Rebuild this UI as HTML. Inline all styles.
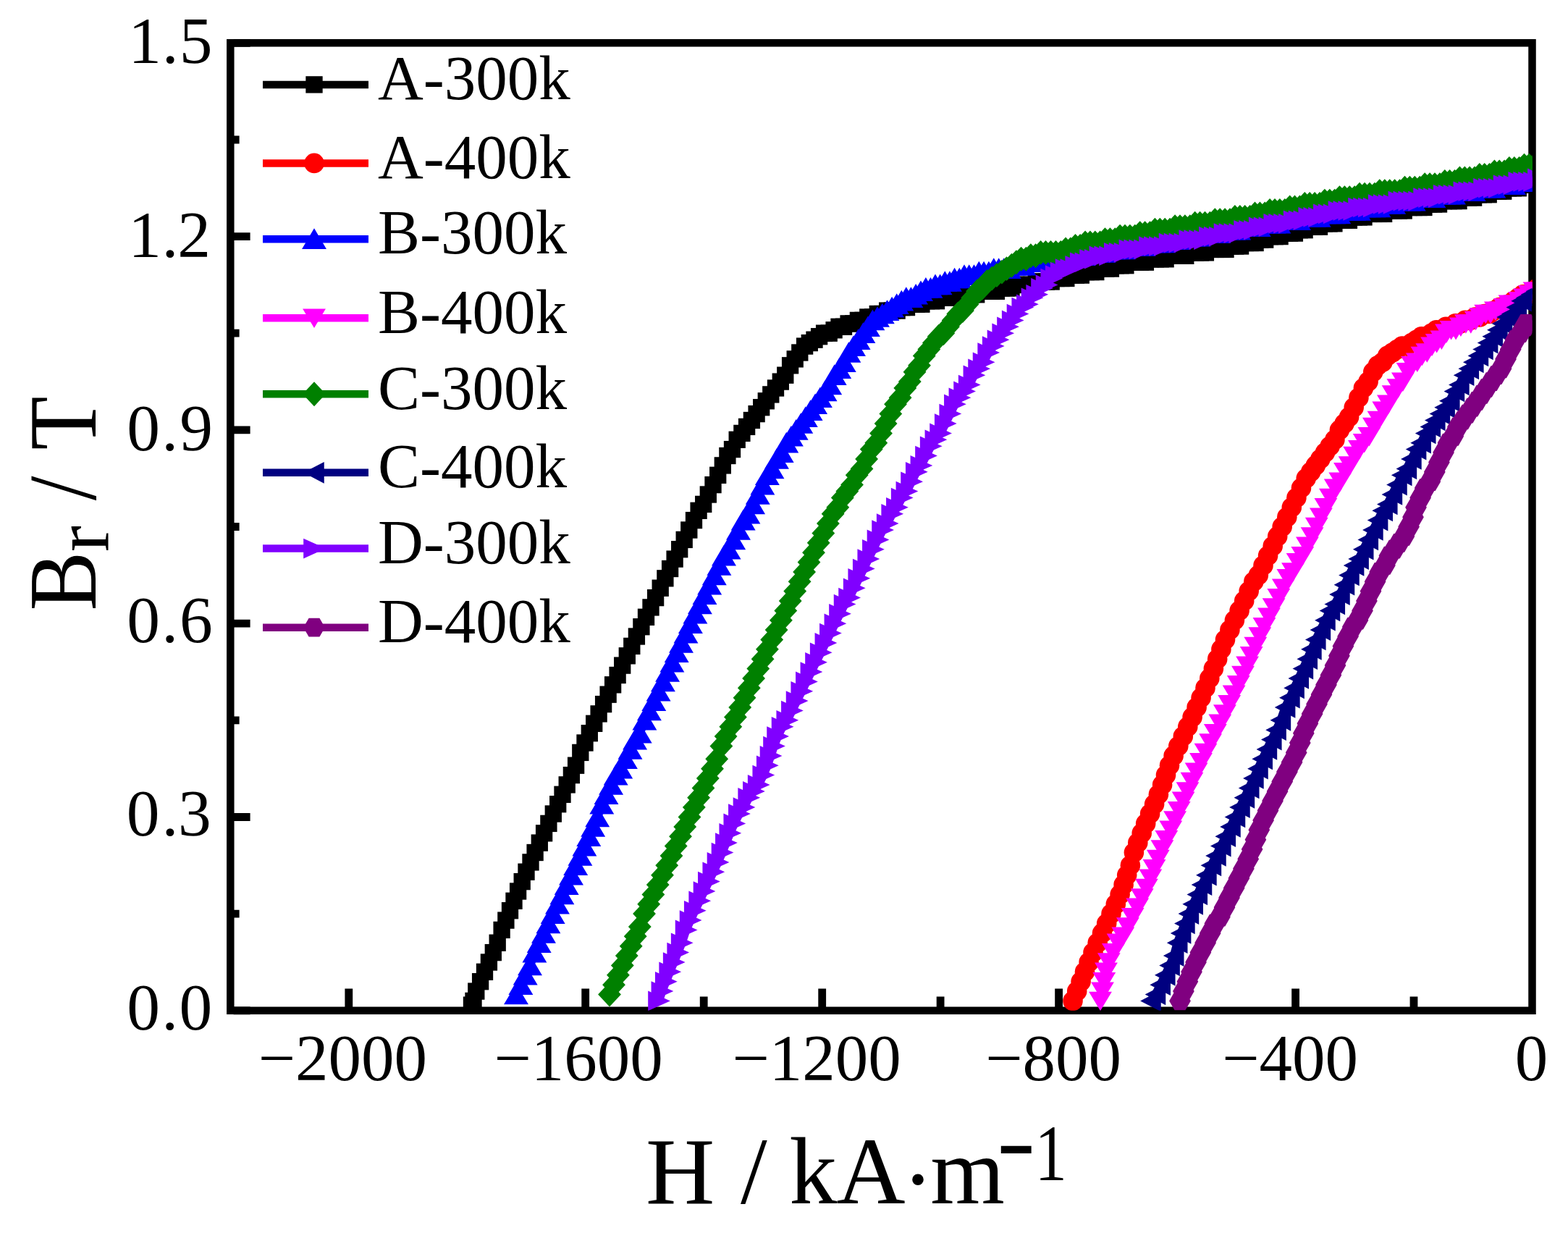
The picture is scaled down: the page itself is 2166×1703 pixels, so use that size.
<!DOCTYPE html>
<html><head><meta charset="utf-8"><title>Br vs H</title>
<style>html,body{margin:0;padding:0;background:#fff;} svg{display:block;}</style>
</head><body>
<svg xmlns="http://www.w3.org/2000/svg" xmlns:xlink="http://www.w3.org/1999/xlink" width="2166" height="1703" viewBox="0 0 2166 1703">
<defs>
<g id="m_A300" transform="scale(1.06)"><rect x="-11" y="-11" width="22" height="22"/></g>
<g id="m_A400" transform="scale(1.06)"><circle r="13"/></g>
<g id="m_B300" transform="scale(1.06)"><polygon points="0,-14 16,13 -16,13"/></g>
<g id="m_B400" transform="scale(1.06)"><polygon points="0,13 15,-12 -15,-12"/></g>
<g id="m_C300" transform="scale(1.06)"><polygon points="0,-16 15,0 0,16 -15,0"/></g>
<g id="m_C400" transform="scale(1.06)"><polygon points="-14,0 13,14 13,-14"/></g>
<g id="m_D300" transform="scale(1.06)"><polygon points="15,0 -14,13 -14,-13"/></g>
<g id="m_D400" transform="scale(1.06)"><polygon points="14.0,0.0 7.0,12.1 -7.0,12.1 -14.0,0.0 -7.0,-12.1 7.0,-12.1"/></g>
<clipPath id="plotclip"><rect x="318.3" y="59.3" width="1798.2" height="1336.5"/></clipPath>
</defs>
<rect width="2166" height="1703" fill="#fff"/>
<rect x="318.3" y="59.3" width="1798.2" height="1336.5" fill="none" stroke="#000" stroke-width="10.5"/>
<path d="M322.6,1395.8H345.6 M322.6,1262.2H330.6 M322.6,1128.5H345.6 M322.6,994.8H330.6 M322.6,861.2H345.6 M322.6,727.5H330.6 M322.6,593.9H345.6 M322.6,460.2H330.6 M322.6,326.6H345.6 M322.6,193.0H330.6 M322.6,59.3H345.6 M481.8,1391.5V1365.5 M645.2,1391.5V1376.5 M808.7,1391.5V1365.5 M972.2,1391.5V1376.5 M1135.7,1391.5V1365.5 M1299.1,1391.5V1376.5 M1462.6,1391.5V1365.5 M1626.1,1391.5V1376.5 M1789.6,1391.5V1365.5 M1953.0,1391.5V1376.5" stroke="#000" stroke-width="10.8" fill="none"/>
<g clip-path="url(#plotclip)">
<g fill="#000000">
<polyline points="654.0,1382.4 657.8,1369.1 663.6,1355.7 669.5,1342.3 675.4,1329.0 681.3,1315.6 687.2,1302.2 693.1,1284.4 698.9,1271.1 704.5,1257.7 710.0,1244.3 715.6,1231.0 721.2,1217.6 727.0,1204.2 733.0,1190.9 739.1,1177.5 745.3,1164.1 751.6,1150.8 757.9,1137.4 764.3,1124.0 770.7,1110.7 777.0,1097.3 783.2,1083.9 789.4,1070.6 795.6,1057.2 801.8,1039.4 808.0,1026.0 814.3,1012.7 820.7,999.3 827.1,985.9 833.6,972.6 840.1,959.2 846.6,945.8 853.1,932.5 859.7,919.1 866.3,905.8 872.8,892.4 879.4,879.0 885.9,865.7 892.5,852.3 899.0,838.9 905.6,825.6 912.2,812.2 918.9,798.8 925.6,785.5 932.1,772.1 938.7,758.7 945.2,745.4 951.8,732.0 958.5,718.6 965.1,705.3 971.7,696.4 978.3,683.0 985.0,669.6 991.7,656.3 998.3,642.9 1004.9,629.5 1011.5,620.6 1018.2,607.3 1024.9,598.4 1031.6,589.4 1038.4,580.5 1045.1,571.6 1051.7,562.7 1058.3,553.8 1064.8,544.9 1071.5,536.0 1078.3,527.1 1084.8,518.2 1091.6,504.8 1098.2,495.9 1104.8,487.0 1111.6,478.1 1118.3,473.6 1125.0,469.2 1131.6,464.7 1138.6,460.2 1145.2,460.2 1152.1,455.8 1159.0,451.3 1165.5,451.3 1172.1,446.9 1178.7,446.9 1185.4,442.4 1192.1,442.4 1198.8,438.0 1205.5,438.0 1212.3,433.5 1219.0,433.5 1225.7,429.1 1232.4,429.1 1239.1,429.1 1245.8,424.6 1252.5,424.6 1259.3,420.2 1266.1,420.2 1272.9,420.2 1279.8,415.7 1286.6,415.7 1293.5,415.7 1300.4,411.2 1307.3,411.2 1314.2,411.2 1321.1,406.8 1328.0,406.8 1334.9,406.8 1341.8,406.8 1348.7,406.8 1355.7,402.3 1362.6,402.3 1369.5,402.3 1376.4,402.3 1383.3,397.9 1390.2,397.9 1397.0,397.9 1403.9,393.4 1410.7,393.4 1417.6,393.4 1424.5,393.4 1431.4,389.0 1438.4,389.0 1445.3,389.0 1452.2,389.0 1459.1,384.5 1466.0,384.5 1472.8,384.5 1479.6,380.1 1486.4,380.1 1493.3,380.1 1500.1,375.6 1507.0,375.6 1513.8,375.6 1520.7,371.1 1527.6,371.1 1534.4,371.1 1541.2,366.7 1548.1,366.7 1554.9,366.7 1561.8,362.2 1568.7,362.2 1575.5,362.2 1582.4,362.2 1589.4,357.8 1596.3,357.8 1603.2,357.8 1610.1,357.8 1617.0,353.3 1623.9,353.3 1630.8,353.3 1637.8,353.3 1644.7,348.9 1651.6,348.9 1658.5,348.9 1665.4,348.9 1672.3,344.4 1679.2,344.4 1686.1,344.4 1693.0,344.4 1699.9,340.0 1706.7,340.0 1713.6,340.0 1720.4,335.5 1727.2,335.5 1734.1,335.5 1740.9,331.1 1747.7,331.1 1754.5,326.6 1761.3,326.6 1768.1,326.6 1774.8,322.1 1781.6,322.1 1788.4,322.1 1795.2,317.7 1802.1,317.7 1808.9,313.2 1815.7,313.2 1822.5,313.2 1829.3,308.8 1836.1,308.8 1842.9,308.8 1849.8,304.3 1856.6,304.3 1863.4,304.3 1870.3,299.9 1877.2,299.9 1884.0,299.9 1890.9,295.4 1897.8,295.4 1904.7,295.4 1911.6,295.4 1918.5,291.0 1925.4,291.0 1932.3,291.0 1939.2,291.0 1946.2,286.5 1953.1,286.5 1960.0,286.5 1966.9,286.5 1973.7,282.0 1980.6,282.0 1987.5,282.0 1994.4,277.6 2001.3,277.6 2008.1,277.6 2015.0,277.6 2021.9,273.1 2028.7,273.1 2035.6,273.1 2042.4,268.7 2049.3,268.7 2056.2,268.7 2063.0,264.2 2069.9,264.2 2076.7,264.2 2083.6,259.8 2090.4,259.8 2097.3,259.8 2104.1,255.3 2111.0,255.3 2117.9,255.3 2124.7,250.9 2124.7,250.9" fill="none" stroke="#000000" stroke-width="12" stroke-linejoin="round"/>
<use xlink:href="#m_A300" x="654.0" y="1382.4"/><use xlink:href="#m_A300" x="657.8" y="1369.1"/><use xlink:href="#m_A300" x="663.6" y="1355.7"/><use xlink:href="#m_A300" x="669.5" y="1342.3"/><use xlink:href="#m_A300" x="675.4" y="1329.0"/><use xlink:href="#m_A300" x="681.3" y="1315.6"/><use xlink:href="#m_A300" x="687.2" y="1302.2"/><use xlink:href="#m_A300" x="693.1" y="1284.4"/><use xlink:href="#m_A300" x="698.9" y="1271.1"/><use xlink:href="#m_A300" x="704.5" y="1257.7"/><use xlink:href="#m_A300" x="710.0" y="1244.3"/><use xlink:href="#m_A300" x="715.6" y="1231.0"/><use xlink:href="#m_A300" x="721.2" y="1217.6"/><use xlink:href="#m_A300" x="727.0" y="1204.2"/><use xlink:href="#m_A300" x="733.0" y="1190.9"/><use xlink:href="#m_A300" x="739.1" y="1177.5"/><use xlink:href="#m_A300" x="745.3" y="1164.1"/><use xlink:href="#m_A300" x="751.6" y="1150.8"/><use xlink:href="#m_A300" x="757.9" y="1137.4"/><use xlink:href="#m_A300" x="764.3" y="1124.0"/><use xlink:href="#m_A300" x="770.7" y="1110.7"/><use xlink:href="#m_A300" x="777.0" y="1097.3"/><use xlink:href="#m_A300" x="783.2" y="1083.9"/><use xlink:href="#m_A300" x="789.4" y="1070.6"/><use xlink:href="#m_A300" x="795.6" y="1057.2"/><use xlink:href="#m_A300" x="801.8" y="1039.4"/><use xlink:href="#m_A300" x="808.0" y="1026.0"/><use xlink:href="#m_A300" x="814.3" y="1012.7"/><use xlink:href="#m_A300" x="820.7" y="999.3"/><use xlink:href="#m_A300" x="827.1" y="985.9"/><use xlink:href="#m_A300" x="833.6" y="972.6"/><use xlink:href="#m_A300" x="840.1" y="959.2"/><use xlink:href="#m_A300" x="846.6" y="945.8"/><use xlink:href="#m_A300" x="853.1" y="932.5"/><use xlink:href="#m_A300" x="859.7" y="919.1"/><use xlink:href="#m_A300" x="866.3" y="905.8"/><use xlink:href="#m_A300" x="872.8" y="892.4"/><use xlink:href="#m_A300" x="879.4" y="879.0"/><use xlink:href="#m_A300" x="885.9" y="865.7"/><use xlink:href="#m_A300" x="892.5" y="852.3"/><use xlink:href="#m_A300" x="899.0" y="838.9"/><use xlink:href="#m_A300" x="905.6" y="825.6"/><use xlink:href="#m_A300" x="912.2" y="812.2"/><use xlink:href="#m_A300" x="918.9" y="798.8"/><use xlink:href="#m_A300" x="925.6" y="785.5"/><use xlink:href="#m_A300" x="932.1" y="772.1"/><use xlink:href="#m_A300" x="938.7" y="758.7"/><use xlink:href="#m_A300" x="945.2" y="745.4"/><use xlink:href="#m_A300" x="951.8" y="732.0"/><use xlink:href="#m_A300" x="958.5" y="718.6"/><use xlink:href="#m_A300" x="965.1" y="705.3"/><use xlink:href="#m_A300" x="971.7" y="696.4"/><use xlink:href="#m_A300" x="978.3" y="683.0"/><use xlink:href="#m_A300" x="985.0" y="669.6"/><use xlink:href="#m_A300" x="991.7" y="656.3"/><use xlink:href="#m_A300" x="998.3" y="642.9"/><use xlink:href="#m_A300" x="1004.9" y="629.5"/><use xlink:href="#m_A300" x="1011.5" y="620.6"/><use xlink:href="#m_A300" x="1018.2" y="607.3"/><use xlink:href="#m_A300" x="1024.9" y="598.4"/><use xlink:href="#m_A300" x="1031.6" y="589.4"/><use xlink:href="#m_A300" x="1038.4" y="580.5"/><use xlink:href="#m_A300" x="1045.1" y="571.6"/><use xlink:href="#m_A300" x="1051.7" y="562.7"/><use xlink:href="#m_A300" x="1058.3" y="553.8"/><use xlink:href="#m_A300" x="1064.8" y="544.9"/><use xlink:href="#m_A300" x="1071.5" y="536.0"/><use xlink:href="#m_A300" x="1078.3" y="527.1"/><use xlink:href="#m_A300" x="1084.8" y="518.2"/><use xlink:href="#m_A300" x="1091.6" y="504.8"/><use xlink:href="#m_A300" x="1098.2" y="495.9"/><use xlink:href="#m_A300" x="1104.8" y="487.0"/><use xlink:href="#m_A300" x="1111.6" y="478.1"/><use xlink:href="#m_A300" x="1118.3" y="473.6"/><use xlink:href="#m_A300" x="1125.0" y="469.2"/><use xlink:href="#m_A300" x="1131.6" y="464.7"/><use xlink:href="#m_A300" x="1138.6" y="460.2"/><use xlink:href="#m_A300" x="1145.2" y="460.2"/><use xlink:href="#m_A300" x="1152.1" y="455.8"/><use xlink:href="#m_A300" x="1159.0" y="451.3"/><use xlink:href="#m_A300" x="1165.5" y="451.3"/><use xlink:href="#m_A300" x="1172.1" y="446.9"/><use xlink:href="#m_A300" x="1178.7" y="446.9"/><use xlink:href="#m_A300" x="1185.4" y="442.4"/><use xlink:href="#m_A300" x="1192.1" y="442.4"/><use xlink:href="#m_A300" x="1198.8" y="438.0"/><use xlink:href="#m_A300" x="1205.5" y="438.0"/><use xlink:href="#m_A300" x="1212.3" y="433.5"/><use xlink:href="#m_A300" x="1219.0" y="433.5"/><use xlink:href="#m_A300" x="1225.7" y="429.1"/><use xlink:href="#m_A300" x="1232.4" y="429.1"/><use xlink:href="#m_A300" x="1239.1" y="429.1"/><use xlink:href="#m_A300" x="1245.8" y="424.6"/><use xlink:href="#m_A300" x="1252.5" y="424.6"/><use xlink:href="#m_A300" x="1259.3" y="420.2"/><use xlink:href="#m_A300" x="1266.1" y="420.2"/><use xlink:href="#m_A300" x="1272.9" y="420.2"/><use xlink:href="#m_A300" x="1279.8" y="415.7"/><use xlink:href="#m_A300" x="1286.6" y="415.7"/><use xlink:href="#m_A300" x="1293.5" y="415.7"/><use xlink:href="#m_A300" x="1300.4" y="411.2"/><use xlink:href="#m_A300" x="1307.3" y="411.2"/><use xlink:href="#m_A300" x="1314.2" y="411.2"/><use xlink:href="#m_A300" x="1321.1" y="406.8"/><use xlink:href="#m_A300" x="1328.0" y="406.8"/><use xlink:href="#m_A300" x="1334.9" y="406.8"/><use xlink:href="#m_A300" x="1341.8" y="406.8"/><use xlink:href="#m_A300" x="1348.7" y="406.8"/><use xlink:href="#m_A300" x="1355.7" y="402.3"/><use xlink:href="#m_A300" x="1362.6" y="402.3"/><use xlink:href="#m_A300" x="1369.5" y="402.3"/><use xlink:href="#m_A300" x="1376.4" y="402.3"/><use xlink:href="#m_A300" x="1383.3" y="397.9"/><use xlink:href="#m_A300" x="1390.2" y="397.9"/><use xlink:href="#m_A300" x="1397.0" y="397.9"/><use xlink:href="#m_A300" x="1403.9" y="393.4"/><use xlink:href="#m_A300" x="1410.7" y="393.4"/><use xlink:href="#m_A300" x="1417.6" y="393.4"/><use xlink:href="#m_A300" x="1424.5" y="393.4"/><use xlink:href="#m_A300" x="1431.4" y="389.0"/><use xlink:href="#m_A300" x="1438.4" y="389.0"/><use xlink:href="#m_A300" x="1445.3" y="389.0"/><use xlink:href="#m_A300" x="1452.2" y="389.0"/><use xlink:href="#m_A300" x="1459.1" y="384.5"/><use xlink:href="#m_A300" x="1466.0" y="384.5"/><use xlink:href="#m_A300" x="1472.8" y="384.5"/><use xlink:href="#m_A300" x="1479.6" y="380.1"/><use xlink:href="#m_A300" x="1486.4" y="380.1"/><use xlink:href="#m_A300" x="1493.3" y="380.1"/><use xlink:href="#m_A300" x="1500.1" y="375.6"/><use xlink:href="#m_A300" x="1507.0" y="375.6"/><use xlink:href="#m_A300" x="1513.8" y="375.6"/><use xlink:href="#m_A300" x="1520.7" y="371.1"/><use xlink:href="#m_A300" x="1527.6" y="371.1"/><use xlink:href="#m_A300" x="1534.4" y="371.1"/><use xlink:href="#m_A300" x="1541.2" y="366.7"/><use xlink:href="#m_A300" x="1548.1" y="366.7"/><use xlink:href="#m_A300" x="1554.9" y="366.7"/><use xlink:href="#m_A300" x="1561.8" y="362.2"/><use xlink:href="#m_A300" x="1568.7" y="362.2"/><use xlink:href="#m_A300" x="1575.5" y="362.2"/><use xlink:href="#m_A300" x="1582.4" y="362.2"/><use xlink:href="#m_A300" x="1589.4" y="357.8"/><use xlink:href="#m_A300" x="1596.3" y="357.8"/><use xlink:href="#m_A300" x="1603.2" y="357.8"/><use xlink:href="#m_A300" x="1610.1" y="357.8"/><use xlink:href="#m_A300" x="1617.0" y="353.3"/><use xlink:href="#m_A300" x="1623.9" y="353.3"/><use xlink:href="#m_A300" x="1630.8" y="353.3"/><use xlink:href="#m_A300" x="1637.8" y="353.3"/><use xlink:href="#m_A300" x="1644.7" y="348.9"/><use xlink:href="#m_A300" x="1651.6" y="348.9"/><use xlink:href="#m_A300" x="1658.5" y="348.9"/><use xlink:href="#m_A300" x="1665.4" y="348.9"/><use xlink:href="#m_A300" x="1672.3" y="344.4"/><use xlink:href="#m_A300" x="1679.2" y="344.4"/><use xlink:href="#m_A300" x="1686.1" y="344.4"/><use xlink:href="#m_A300" x="1693.0" y="344.4"/><use xlink:href="#m_A300" x="1699.9" y="340.0"/><use xlink:href="#m_A300" x="1706.7" y="340.0"/><use xlink:href="#m_A300" x="1713.6" y="340.0"/><use xlink:href="#m_A300" x="1720.4" y="335.5"/><use xlink:href="#m_A300" x="1727.2" y="335.5"/><use xlink:href="#m_A300" x="1734.1" y="335.5"/><use xlink:href="#m_A300" x="1740.9" y="331.1"/><use xlink:href="#m_A300" x="1747.7" y="331.1"/><use xlink:href="#m_A300" x="1754.5" y="326.6"/><use xlink:href="#m_A300" x="1761.3" y="326.6"/><use xlink:href="#m_A300" x="1768.1" y="326.6"/><use xlink:href="#m_A300" x="1774.8" y="322.1"/><use xlink:href="#m_A300" x="1781.6" y="322.1"/><use xlink:href="#m_A300" x="1788.4" y="322.1"/><use xlink:href="#m_A300" x="1795.2" y="317.7"/><use xlink:href="#m_A300" x="1802.1" y="317.7"/><use xlink:href="#m_A300" x="1808.9" y="313.2"/><use xlink:href="#m_A300" x="1815.7" y="313.2"/><use xlink:href="#m_A300" x="1822.5" y="313.2"/><use xlink:href="#m_A300" x="1829.3" y="308.8"/><use xlink:href="#m_A300" x="1836.1" y="308.8"/><use xlink:href="#m_A300" x="1842.9" y="308.8"/><use xlink:href="#m_A300" x="1849.8" y="304.3"/><use xlink:href="#m_A300" x="1856.6" y="304.3"/><use xlink:href="#m_A300" x="1863.4" y="304.3"/><use xlink:href="#m_A300" x="1870.3" y="299.9"/><use xlink:href="#m_A300" x="1877.2" y="299.9"/><use xlink:href="#m_A300" x="1884.0" y="299.9"/><use xlink:href="#m_A300" x="1890.9" y="295.4"/><use xlink:href="#m_A300" x="1897.8" y="295.4"/><use xlink:href="#m_A300" x="1904.7" y="295.4"/><use xlink:href="#m_A300" x="1911.6" y="295.4"/><use xlink:href="#m_A300" x="1918.5" y="291.0"/><use xlink:href="#m_A300" x="1925.4" y="291.0"/><use xlink:href="#m_A300" x="1932.3" y="291.0"/><use xlink:href="#m_A300" x="1939.2" y="291.0"/><use xlink:href="#m_A300" x="1946.2" y="286.5"/><use xlink:href="#m_A300" x="1953.1" y="286.5"/><use xlink:href="#m_A300" x="1960.0" y="286.5"/><use xlink:href="#m_A300" x="1966.9" y="286.5"/><use xlink:href="#m_A300" x="1973.7" y="282.0"/><use xlink:href="#m_A300" x="1980.6" y="282.0"/><use xlink:href="#m_A300" x="1987.5" y="282.0"/><use xlink:href="#m_A300" x="1994.4" y="277.6"/><use xlink:href="#m_A300" x="2001.3" y="277.6"/><use xlink:href="#m_A300" x="2008.1" y="277.6"/><use xlink:href="#m_A300" x="2015.0" y="277.6"/><use xlink:href="#m_A300" x="2021.9" y="273.1"/><use xlink:href="#m_A300" x="2028.7" y="273.1"/><use xlink:href="#m_A300" x="2035.6" y="273.1"/><use xlink:href="#m_A300" x="2042.4" y="268.7"/><use xlink:href="#m_A300" x="2049.3" y="268.7"/><use xlink:href="#m_A300" x="2056.2" y="268.7"/><use xlink:href="#m_A300" x="2063.0" y="264.2"/><use xlink:href="#m_A300" x="2069.9" y="264.2"/><use xlink:href="#m_A300" x="2076.7" y="264.2"/><use xlink:href="#m_A300" x="2083.6" y="259.8"/><use xlink:href="#m_A300" x="2090.4" y="259.8"/><use xlink:href="#m_A300" x="2097.3" y="259.8"/><use xlink:href="#m_A300" x="2104.1" y="255.3"/><use xlink:href="#m_A300" x="2111.0" y="255.3"/><use xlink:href="#m_A300" x="2117.9" y="255.3"/><use xlink:href="#m_A300" x="2124.7" y="250.9"/><use xlink:href="#m_A300" x="2124.7" y="250.9"/>
</g>
<g fill="#ff0000">
<polyline points="1482.0,1382.4 1487.7,1369.1 1493.1,1355.7 1498.5,1342.3 1504.1,1329.0 1510.0,1315.6 1516.2,1302.2 1522.5,1288.9 1528.7,1275.5 1535.0,1262.1 1541.3,1248.8 1547.1,1235.4 1552.1,1222.1 1556.7,1208.7 1561.4,1195.3 1566.4,1177.5 1571.8,1164.1 1577.2,1150.8 1582.7,1137.4 1588.6,1124.0 1594.6,1110.7 1600.4,1097.3 1605.6,1083.9 1610.5,1070.6 1615.5,1057.2 1621.1,1043.9 1627.8,1030.5 1634.3,1017.1 1640.8,1003.8 1647.1,990.4 1653.1,977.0 1659.1,963.7 1665.0,950.3 1670.8,936.9 1676.4,923.6 1681.7,910.2 1686.9,896.8 1692.5,883.5 1698.9,870.1 1705.4,856.7 1712.1,843.4 1718.7,830.0 1725.2,816.6 1731.8,803.3 1738.3,794.4 1745.0,781.0 1751.6,767.6 1758.2,754.3 1764.7,740.9 1771.2,727.5 1777.8,714.2 1784.3,700.8 1790.9,687.5 1797.5,674.1 1804.2,660.7 1810.7,651.8 1817.3,642.9 1823.9,634.0 1830.5,625.1 1837.1,616.2 1843.9,607.3 1850.4,593.9 1857.1,585.0 1863.6,576.1 1870.2,562.7 1876.9,549.3 1883.4,536.0 1890.1,527.1 1896.8,513.7 1903.3,504.8 1909.9,500.3 1916.6,491.4 1923.5,487.0 1930.1,482.5 1936.9,478.1 1943.4,478.1 1950.1,473.6 1956.8,469.2 1963.6,464.7 1970.5,464.7 1977.3,460.2 1984.2,455.8 1990.7,455.8 1997.3,451.3 2003.9,451.3 2010.5,446.9 2017.2,446.9 2023.9,442.4 2030.7,442.4 2037.5,438.0 2044.2,438.0 2050.8,433.5 2057.4,433.5 2064.2,429.1 2071.0,424.6 2077.6,424.6 2084.2,420.2 2090.7,415.7 2097.3,411.2 2103.8,406.8 2110.3,406.8 2116.9,402.3 2123.8,397.9 2124.7,397.9" fill="none" stroke="#ff0000" stroke-width="12" stroke-linejoin="round"/>
<use xlink:href="#m_A400" x="1482.0" y="1382.4"/><use xlink:href="#m_A400" x="1487.7" y="1369.1"/><use xlink:href="#m_A400" x="1493.1" y="1355.7"/><use xlink:href="#m_A400" x="1498.5" y="1342.3"/><use xlink:href="#m_A400" x="1504.1" y="1329.0"/><use xlink:href="#m_A400" x="1510.0" y="1315.6"/><use xlink:href="#m_A400" x="1516.2" y="1302.2"/><use xlink:href="#m_A400" x="1522.5" y="1288.9"/><use xlink:href="#m_A400" x="1528.7" y="1275.5"/><use xlink:href="#m_A400" x="1535.0" y="1262.1"/><use xlink:href="#m_A400" x="1541.3" y="1248.8"/><use xlink:href="#m_A400" x="1547.1" y="1235.4"/><use xlink:href="#m_A400" x="1552.1" y="1222.1"/><use xlink:href="#m_A400" x="1556.7" y="1208.7"/><use xlink:href="#m_A400" x="1561.4" y="1195.3"/><use xlink:href="#m_A400" x="1566.4" y="1177.5"/><use xlink:href="#m_A400" x="1571.8" y="1164.1"/><use xlink:href="#m_A400" x="1577.2" y="1150.8"/><use xlink:href="#m_A400" x="1582.7" y="1137.4"/><use xlink:href="#m_A400" x="1588.6" y="1124.0"/><use xlink:href="#m_A400" x="1594.6" y="1110.7"/><use xlink:href="#m_A400" x="1600.4" y="1097.3"/><use xlink:href="#m_A400" x="1605.6" y="1083.9"/><use xlink:href="#m_A400" x="1610.5" y="1070.6"/><use xlink:href="#m_A400" x="1615.5" y="1057.2"/><use xlink:href="#m_A400" x="1621.1" y="1043.9"/><use xlink:href="#m_A400" x="1627.8" y="1030.5"/><use xlink:href="#m_A400" x="1634.3" y="1017.1"/><use xlink:href="#m_A400" x="1640.8" y="1003.8"/><use xlink:href="#m_A400" x="1647.1" y="990.4"/><use xlink:href="#m_A400" x="1653.1" y="977.0"/><use xlink:href="#m_A400" x="1659.1" y="963.7"/><use xlink:href="#m_A400" x="1665.0" y="950.3"/><use xlink:href="#m_A400" x="1670.8" y="936.9"/><use xlink:href="#m_A400" x="1676.4" y="923.6"/><use xlink:href="#m_A400" x="1681.7" y="910.2"/><use xlink:href="#m_A400" x="1686.9" y="896.8"/><use xlink:href="#m_A400" x="1692.5" y="883.5"/><use xlink:href="#m_A400" x="1698.9" y="870.1"/><use xlink:href="#m_A400" x="1705.4" y="856.7"/><use xlink:href="#m_A400" x="1712.1" y="843.4"/><use xlink:href="#m_A400" x="1718.7" y="830.0"/><use xlink:href="#m_A400" x="1725.2" y="816.6"/><use xlink:href="#m_A400" x="1731.8" y="803.3"/><use xlink:href="#m_A400" x="1738.3" y="794.4"/><use xlink:href="#m_A400" x="1745.0" y="781.0"/><use xlink:href="#m_A400" x="1751.6" y="767.6"/><use xlink:href="#m_A400" x="1758.2" y="754.3"/><use xlink:href="#m_A400" x="1764.7" y="740.9"/><use xlink:href="#m_A400" x="1771.2" y="727.5"/><use xlink:href="#m_A400" x="1777.8" y="714.2"/><use xlink:href="#m_A400" x="1784.3" y="700.8"/><use xlink:href="#m_A400" x="1790.9" y="687.5"/><use xlink:href="#m_A400" x="1797.5" y="674.1"/><use xlink:href="#m_A400" x="1804.2" y="660.7"/><use xlink:href="#m_A400" x="1810.7" y="651.8"/><use xlink:href="#m_A400" x="1817.3" y="642.9"/><use xlink:href="#m_A400" x="1823.9" y="634.0"/><use xlink:href="#m_A400" x="1830.5" y="625.1"/><use xlink:href="#m_A400" x="1837.1" y="616.2"/><use xlink:href="#m_A400" x="1843.9" y="607.3"/><use xlink:href="#m_A400" x="1850.4" y="593.9"/><use xlink:href="#m_A400" x="1857.1" y="585.0"/><use xlink:href="#m_A400" x="1863.6" y="576.1"/><use xlink:href="#m_A400" x="1870.2" y="562.7"/><use xlink:href="#m_A400" x="1876.9" y="549.3"/><use xlink:href="#m_A400" x="1883.4" y="536.0"/><use xlink:href="#m_A400" x="1890.1" y="527.1"/><use xlink:href="#m_A400" x="1896.8" y="513.7"/><use xlink:href="#m_A400" x="1903.3" y="504.8"/><use xlink:href="#m_A400" x="1909.9" y="500.3"/><use xlink:href="#m_A400" x="1916.6" y="491.4"/><use xlink:href="#m_A400" x="1923.5" y="487.0"/><use xlink:href="#m_A400" x="1930.1" y="482.5"/><use xlink:href="#m_A400" x="1936.9" y="478.1"/><use xlink:href="#m_A400" x="1943.4" y="478.1"/><use xlink:href="#m_A400" x="1950.1" y="473.6"/><use xlink:href="#m_A400" x="1956.8" y="469.2"/><use xlink:href="#m_A400" x="1963.6" y="464.7"/><use xlink:href="#m_A400" x="1970.5" y="464.7"/><use xlink:href="#m_A400" x="1977.3" y="460.2"/><use xlink:href="#m_A400" x="1984.2" y="455.8"/><use xlink:href="#m_A400" x="1990.7" y="455.8"/><use xlink:href="#m_A400" x="1997.3" y="451.3"/><use xlink:href="#m_A400" x="2003.9" y="451.3"/><use xlink:href="#m_A400" x="2010.5" y="446.9"/><use xlink:href="#m_A400" x="2017.2" y="446.9"/><use xlink:href="#m_A400" x="2023.9" y="442.4"/><use xlink:href="#m_A400" x="2030.7" y="442.4"/><use xlink:href="#m_A400" x="2037.5" y="438.0"/><use xlink:href="#m_A400" x="2044.2" y="438.0"/><use xlink:href="#m_A400" x="2050.8" y="433.5"/><use xlink:href="#m_A400" x="2057.4" y="433.5"/><use xlink:href="#m_A400" x="2064.2" y="429.1"/><use xlink:href="#m_A400" x="2071.0" y="424.6"/><use xlink:href="#m_A400" x="2077.6" y="424.6"/><use xlink:href="#m_A400" x="2084.2" y="420.2"/><use xlink:href="#m_A400" x="2090.7" y="415.7"/><use xlink:href="#m_A400" x="2097.3" y="411.2"/><use xlink:href="#m_A400" x="2103.8" y="406.8"/><use xlink:href="#m_A400" x="2110.3" y="406.8"/><use xlink:href="#m_A400" x="2116.9" y="402.3"/><use xlink:href="#m_A400" x="2123.8" y="397.9"/><use xlink:href="#m_A400" x="2124.7" y="397.9"/>
</g>
<g fill="#0000ff">
<polyline points="713.0,1373.5 719.4,1360.2 725.7,1346.8 732.0,1333.4 738.4,1315.6 744.7,1302.2 751.0,1288.9 757.4,1275.5 763.7,1262.1 770.0,1248.8 776.4,1235.4 782.7,1222.1 789.0,1208.7 795.2,1195.3 801.4,1182.0 807.4,1168.6 813.3,1155.2 819.2,1141.9 825.2,1128.5 831.3,1110.7 837.5,1097.3 844.1,1083.9 850.7,1070.6 857.2,1061.7 863.9,1048.3 870.5,1034.9 877.1,1021.6 883.7,1012.7 890.4,994.8 896.9,981.5 903.3,968.1 909.6,954.8 915.9,941.4 922.1,928.0 928.4,914.7 934.7,901.3 941.0,887.9 947.5,874.6 953.9,861.2 960.4,847.8 966.9,834.5 973.5,821.1 980.2,807.7 986.8,794.4 993.4,781.0 1000.0,767.6 1006.6,758.7 1013.2,745.4 1020.0,732.0 1026.7,718.6 1033.4,709.7 1040.1,696.4 1046.8,683.0 1053.4,669.6 1059.9,656.3 1066.5,647.4 1073.0,634.0 1079.7,625.1 1086.3,611.7 1092.9,602.8 1099.7,593.9 1106.3,585.0 1112.8,576.1 1119.6,567.2 1126.1,558.3 1132.9,549.3 1139.6,540.4 1146.2,531.5 1152.7,518.2 1159.2,509.3 1165.8,500.3 1172.4,487.0 1179.0,478.1 1185.6,469.2 1192.4,460.2 1198.9,451.3 1205.4,442.4 1212.0,438.0 1218.8,433.5 1225.5,429.1 1232.1,424.6 1238.7,420.2 1245.3,415.7 1251.8,411.2 1258.4,411.2 1265.1,406.8 1272.0,402.3 1278.9,397.9 1285.5,397.9 1292.0,393.4 1298.6,393.4 1305.3,389.0 1311.9,389.0 1318.6,384.5 1325.3,384.5 1332.0,380.1 1338.7,380.1 1345.5,380.1 1352.3,375.6 1359.1,375.6 1365.9,375.6 1372.8,371.1 1379.7,371.1 1386.7,371.1 1393.7,371.1 1400.6,366.7 1407.4,366.7 1414.3,366.7 1421.0,362.2 1427.9,362.2 1434.7,362.2 1441.6,357.8 1448.5,357.8 1455.4,357.8 1462.3,357.8 1469.2,353.3 1476.1,353.3 1483.1,353.3 1490.0,353.3 1496.9,353.3 1503.8,348.9 1510.8,348.9 1517.7,348.9 1524.6,348.9 1531.5,344.4 1538.4,344.4 1545.4,344.4 1552.3,344.4 1559.2,340.0 1566.1,340.0 1573.0,340.0 1579.9,340.0 1586.8,335.5 1593.7,335.5 1600.6,335.5 1607.5,335.5 1614.4,331.1 1621.3,331.1 1628.2,331.1 1635.1,326.6 1642.0,326.6 1648.9,326.6 1655.8,326.6 1662.7,322.1 1669.6,322.1 1676.5,322.1 1683.4,322.1 1690.4,317.7 1697.3,317.7 1704.2,317.7 1711.1,317.7 1718.0,313.2 1724.9,313.2 1731.8,313.2 1738.7,313.2 1745.6,308.8 1752.6,308.8 1759.5,308.8 1766.4,308.8 1773.3,304.3 1780.2,304.3 1787.1,304.3 1794.0,304.3 1801.0,299.9 1807.9,299.9 1814.8,299.9 1821.7,299.9 1828.6,295.4 1835.5,295.4 1842.4,295.4 1849.3,295.4 1856.2,291.0 1863.1,291.0 1870.0,291.0 1876.9,291.0 1883.8,286.5 1890.7,286.5 1897.6,286.5 1904.5,286.5 1911.4,282.0 1918.3,282.0 1925.2,282.0 1932.1,277.6 1938.9,277.6 1945.8,277.6 1952.7,277.6 1959.6,273.1 1966.5,273.1 1973.4,273.1 1980.3,273.1 1987.2,268.7 1994.1,268.7 2001.0,268.7 2008.0,268.7 2014.9,264.2 2021.8,264.2 2028.7,264.2 2035.6,264.2 2042.5,259.8 2049.4,259.8 2056.4,259.8 2063.3,259.8 2070.2,255.3 2077.1,255.3 2084.1,255.3 2091.0,255.3 2097.9,250.9 2104.8,250.9 2111.7,250.9 2118.7,250.9 2124.6,250.9" fill="none" stroke="#0000ff" stroke-width="12" stroke-linejoin="round"/>
<use xlink:href="#m_B300" x="713.0" y="1373.5"/><use xlink:href="#m_B300" x="719.4" y="1360.2"/><use xlink:href="#m_B300" x="725.7" y="1346.8"/><use xlink:href="#m_B300" x="732.0" y="1333.4"/><use xlink:href="#m_B300" x="738.4" y="1315.6"/><use xlink:href="#m_B300" x="744.7" y="1302.2"/><use xlink:href="#m_B300" x="751.0" y="1288.9"/><use xlink:href="#m_B300" x="757.4" y="1275.5"/><use xlink:href="#m_B300" x="763.7" y="1262.1"/><use xlink:href="#m_B300" x="770.0" y="1248.8"/><use xlink:href="#m_B300" x="776.4" y="1235.4"/><use xlink:href="#m_B300" x="782.7" y="1222.1"/><use xlink:href="#m_B300" x="789.0" y="1208.7"/><use xlink:href="#m_B300" x="795.2" y="1195.3"/><use xlink:href="#m_B300" x="801.4" y="1182.0"/><use xlink:href="#m_B300" x="807.4" y="1168.6"/><use xlink:href="#m_B300" x="813.3" y="1155.2"/><use xlink:href="#m_B300" x="819.2" y="1141.9"/><use xlink:href="#m_B300" x="825.2" y="1128.5"/><use xlink:href="#m_B300" x="831.3" y="1110.7"/><use xlink:href="#m_B300" x="837.5" y="1097.3"/><use xlink:href="#m_B300" x="844.1" y="1083.9"/><use xlink:href="#m_B300" x="850.7" y="1070.6"/><use xlink:href="#m_B300" x="857.2" y="1061.7"/><use xlink:href="#m_B300" x="863.9" y="1048.3"/><use xlink:href="#m_B300" x="870.5" y="1034.9"/><use xlink:href="#m_B300" x="877.1" y="1021.6"/><use xlink:href="#m_B300" x="883.7" y="1012.7"/><use xlink:href="#m_B300" x="890.4" y="994.8"/><use xlink:href="#m_B300" x="896.9" y="981.5"/><use xlink:href="#m_B300" x="903.3" y="968.1"/><use xlink:href="#m_B300" x="909.6" y="954.8"/><use xlink:href="#m_B300" x="915.9" y="941.4"/><use xlink:href="#m_B300" x="922.1" y="928.0"/><use xlink:href="#m_B300" x="928.4" y="914.7"/><use xlink:href="#m_B300" x="934.7" y="901.3"/><use xlink:href="#m_B300" x="941.0" y="887.9"/><use xlink:href="#m_B300" x="947.5" y="874.6"/><use xlink:href="#m_B300" x="953.9" y="861.2"/><use xlink:href="#m_B300" x="960.4" y="847.8"/><use xlink:href="#m_B300" x="966.9" y="834.5"/><use xlink:href="#m_B300" x="973.5" y="821.1"/><use xlink:href="#m_B300" x="980.2" y="807.7"/><use xlink:href="#m_B300" x="986.8" y="794.4"/><use xlink:href="#m_B300" x="993.4" y="781.0"/><use xlink:href="#m_B300" x="1000.0" y="767.6"/><use xlink:href="#m_B300" x="1006.6" y="758.7"/><use xlink:href="#m_B300" x="1013.2" y="745.4"/><use xlink:href="#m_B300" x="1020.0" y="732.0"/><use xlink:href="#m_B300" x="1026.7" y="718.6"/><use xlink:href="#m_B300" x="1033.4" y="709.7"/><use xlink:href="#m_B300" x="1040.1" y="696.4"/><use xlink:href="#m_B300" x="1046.8" y="683.0"/><use xlink:href="#m_B300" x="1053.4" y="669.6"/><use xlink:href="#m_B300" x="1059.9" y="656.3"/><use xlink:href="#m_B300" x="1066.5" y="647.4"/><use xlink:href="#m_B300" x="1073.0" y="634.0"/><use xlink:href="#m_B300" x="1079.7" y="625.1"/><use xlink:href="#m_B300" x="1086.3" y="611.7"/><use xlink:href="#m_B300" x="1092.9" y="602.8"/><use xlink:href="#m_B300" x="1099.7" y="593.9"/><use xlink:href="#m_B300" x="1106.3" y="585.0"/><use xlink:href="#m_B300" x="1112.8" y="576.1"/><use xlink:href="#m_B300" x="1119.6" y="567.2"/><use xlink:href="#m_B300" x="1126.1" y="558.3"/><use xlink:href="#m_B300" x="1132.9" y="549.3"/><use xlink:href="#m_B300" x="1139.6" y="540.4"/><use xlink:href="#m_B300" x="1146.2" y="531.5"/><use xlink:href="#m_B300" x="1152.7" y="518.2"/><use xlink:href="#m_B300" x="1159.2" y="509.3"/><use xlink:href="#m_B300" x="1165.8" y="500.3"/><use xlink:href="#m_B300" x="1172.4" y="487.0"/><use xlink:href="#m_B300" x="1179.0" y="478.1"/><use xlink:href="#m_B300" x="1185.6" y="469.2"/><use xlink:href="#m_B300" x="1192.4" y="460.2"/><use xlink:href="#m_B300" x="1198.9" y="451.3"/><use xlink:href="#m_B300" x="1205.4" y="442.4"/><use xlink:href="#m_B300" x="1212.0" y="438.0"/><use xlink:href="#m_B300" x="1218.8" y="433.5"/><use xlink:href="#m_B300" x="1225.5" y="429.1"/><use xlink:href="#m_B300" x="1232.1" y="424.6"/><use xlink:href="#m_B300" x="1238.7" y="420.2"/><use xlink:href="#m_B300" x="1245.3" y="415.7"/><use xlink:href="#m_B300" x="1251.8" y="411.2"/><use xlink:href="#m_B300" x="1258.4" y="411.2"/><use xlink:href="#m_B300" x="1265.1" y="406.8"/><use xlink:href="#m_B300" x="1272.0" y="402.3"/><use xlink:href="#m_B300" x="1278.9" y="397.9"/><use xlink:href="#m_B300" x="1285.5" y="397.9"/><use xlink:href="#m_B300" x="1292.0" y="393.4"/><use xlink:href="#m_B300" x="1298.6" y="393.4"/><use xlink:href="#m_B300" x="1305.3" y="389.0"/><use xlink:href="#m_B300" x="1311.9" y="389.0"/><use xlink:href="#m_B300" x="1318.6" y="384.5"/><use xlink:href="#m_B300" x="1325.3" y="384.5"/><use xlink:href="#m_B300" x="1332.0" y="380.1"/><use xlink:href="#m_B300" x="1338.7" y="380.1"/><use xlink:href="#m_B300" x="1345.5" y="380.1"/><use xlink:href="#m_B300" x="1352.3" y="375.6"/><use xlink:href="#m_B300" x="1359.1" y="375.6"/><use xlink:href="#m_B300" x="1365.9" y="375.6"/><use xlink:href="#m_B300" x="1372.8" y="371.1"/><use xlink:href="#m_B300" x="1379.7" y="371.1"/><use xlink:href="#m_B300" x="1386.7" y="371.1"/><use xlink:href="#m_B300" x="1393.7" y="371.1"/><use xlink:href="#m_B300" x="1400.6" y="366.7"/><use xlink:href="#m_B300" x="1407.4" y="366.7"/><use xlink:href="#m_B300" x="1414.3" y="366.7"/><use xlink:href="#m_B300" x="1421.0" y="362.2"/><use xlink:href="#m_B300" x="1427.9" y="362.2"/><use xlink:href="#m_B300" x="1434.7" y="362.2"/><use xlink:href="#m_B300" x="1441.6" y="357.8"/><use xlink:href="#m_B300" x="1448.5" y="357.8"/><use xlink:href="#m_B300" x="1455.4" y="357.8"/><use xlink:href="#m_B300" x="1462.3" y="357.8"/><use xlink:href="#m_B300" x="1469.2" y="353.3"/><use xlink:href="#m_B300" x="1476.1" y="353.3"/><use xlink:href="#m_B300" x="1483.1" y="353.3"/><use xlink:href="#m_B300" x="1490.0" y="353.3"/><use xlink:href="#m_B300" x="1496.9" y="353.3"/><use xlink:href="#m_B300" x="1503.8" y="348.9"/><use xlink:href="#m_B300" x="1510.8" y="348.9"/><use xlink:href="#m_B300" x="1517.7" y="348.9"/><use xlink:href="#m_B300" x="1524.6" y="348.9"/><use xlink:href="#m_B300" x="1531.5" y="344.4"/><use xlink:href="#m_B300" x="1538.4" y="344.4"/><use xlink:href="#m_B300" x="1545.4" y="344.4"/><use xlink:href="#m_B300" x="1552.3" y="344.4"/><use xlink:href="#m_B300" x="1559.2" y="340.0"/><use xlink:href="#m_B300" x="1566.1" y="340.0"/><use xlink:href="#m_B300" x="1573.0" y="340.0"/><use xlink:href="#m_B300" x="1579.9" y="340.0"/><use xlink:href="#m_B300" x="1586.8" y="335.5"/><use xlink:href="#m_B300" x="1593.7" y="335.5"/><use xlink:href="#m_B300" x="1600.6" y="335.5"/><use xlink:href="#m_B300" x="1607.5" y="335.5"/><use xlink:href="#m_B300" x="1614.4" y="331.1"/><use xlink:href="#m_B300" x="1621.3" y="331.1"/><use xlink:href="#m_B300" x="1628.2" y="331.1"/><use xlink:href="#m_B300" x="1635.1" y="326.6"/><use xlink:href="#m_B300" x="1642.0" y="326.6"/><use xlink:href="#m_B300" x="1648.9" y="326.6"/><use xlink:href="#m_B300" x="1655.8" y="326.6"/><use xlink:href="#m_B300" x="1662.7" y="322.1"/><use xlink:href="#m_B300" x="1669.6" y="322.1"/><use xlink:href="#m_B300" x="1676.5" y="322.1"/><use xlink:href="#m_B300" x="1683.4" y="322.1"/><use xlink:href="#m_B300" x="1690.4" y="317.7"/><use xlink:href="#m_B300" x="1697.3" y="317.7"/><use xlink:href="#m_B300" x="1704.2" y="317.7"/><use xlink:href="#m_B300" x="1711.1" y="317.7"/><use xlink:href="#m_B300" x="1718.0" y="313.2"/><use xlink:href="#m_B300" x="1724.9" y="313.2"/><use xlink:href="#m_B300" x="1731.8" y="313.2"/><use xlink:href="#m_B300" x="1738.7" y="313.2"/><use xlink:href="#m_B300" x="1745.6" y="308.8"/><use xlink:href="#m_B300" x="1752.6" y="308.8"/><use xlink:href="#m_B300" x="1759.5" y="308.8"/><use xlink:href="#m_B300" x="1766.4" y="308.8"/><use xlink:href="#m_B300" x="1773.3" y="304.3"/><use xlink:href="#m_B300" x="1780.2" y="304.3"/><use xlink:href="#m_B300" x="1787.1" y="304.3"/><use xlink:href="#m_B300" x="1794.0" y="304.3"/><use xlink:href="#m_B300" x="1801.0" y="299.9"/><use xlink:href="#m_B300" x="1807.9" y="299.9"/><use xlink:href="#m_B300" x="1814.8" y="299.9"/><use xlink:href="#m_B300" x="1821.7" y="299.9"/><use xlink:href="#m_B300" x="1828.6" y="295.4"/><use xlink:href="#m_B300" x="1835.5" y="295.4"/><use xlink:href="#m_B300" x="1842.4" y="295.4"/><use xlink:href="#m_B300" x="1849.3" y="295.4"/><use xlink:href="#m_B300" x="1856.2" y="291.0"/><use xlink:href="#m_B300" x="1863.1" y="291.0"/><use xlink:href="#m_B300" x="1870.0" y="291.0"/><use xlink:href="#m_B300" x="1876.9" y="291.0"/><use xlink:href="#m_B300" x="1883.8" y="286.5"/><use xlink:href="#m_B300" x="1890.7" y="286.5"/><use xlink:href="#m_B300" x="1897.6" y="286.5"/><use xlink:href="#m_B300" x="1904.5" y="286.5"/><use xlink:href="#m_B300" x="1911.4" y="282.0"/><use xlink:href="#m_B300" x="1918.3" y="282.0"/><use xlink:href="#m_B300" x="1925.2" y="282.0"/><use xlink:href="#m_B300" x="1932.1" y="277.6"/><use xlink:href="#m_B300" x="1938.9" y="277.6"/><use xlink:href="#m_B300" x="1945.8" y="277.6"/><use xlink:href="#m_B300" x="1952.7" y="277.6"/><use xlink:href="#m_B300" x="1959.6" y="273.1"/><use xlink:href="#m_B300" x="1966.5" y="273.1"/><use xlink:href="#m_B300" x="1973.4" y="273.1"/><use xlink:href="#m_B300" x="1980.3" y="273.1"/><use xlink:href="#m_B300" x="1987.2" y="268.7"/><use xlink:href="#m_B300" x="1994.1" y="268.7"/><use xlink:href="#m_B300" x="2001.0" y="268.7"/><use xlink:href="#m_B300" x="2008.0" y="268.7"/><use xlink:href="#m_B300" x="2014.9" y="264.2"/><use xlink:href="#m_B300" x="2021.8" y="264.2"/><use xlink:href="#m_B300" x="2028.7" y="264.2"/><use xlink:href="#m_B300" x="2035.6" y="264.2"/><use xlink:href="#m_B300" x="2042.5" y="259.8"/><use xlink:href="#m_B300" x="2049.4" y="259.8"/><use xlink:href="#m_B300" x="2056.4" y="259.8"/><use xlink:href="#m_B300" x="2063.3" y="259.8"/><use xlink:href="#m_B300" x="2070.2" y="255.3"/><use xlink:href="#m_B300" x="2077.1" y="255.3"/><use xlink:href="#m_B300" x="2084.1" y="255.3"/><use xlink:href="#m_B300" x="2091.0" y="255.3"/><use xlink:href="#m_B300" x="2097.9" y="250.9"/><use xlink:href="#m_B300" x="2104.8" y="250.9"/><use xlink:href="#m_B300" x="2111.7" y="250.9"/><use xlink:href="#m_B300" x="2118.7" y="250.9"/><use xlink:href="#m_B300" x="2124.6" y="250.9"/>
</g>
<g fill="#ff00ff">
<polyline points="1520.0,1382.4 1523.0,1369.1 1525.3,1355.7 1528.0,1342.3 1531.8,1329.0 1537.9,1315.6 1544.6,1302.2 1551.3,1293.3 1557.9,1280.0 1564.6,1266.6 1571.2,1253.2 1577.7,1239.9 1583.9,1226.5 1589.3,1213.1 1594.5,1199.8 1599.8,1186.4 1605.4,1173.0 1611.3,1159.7 1617.3,1146.3 1623.1,1133.0 1628.7,1119.6 1634.6,1106.2 1640.5,1092.9 1646.5,1079.5 1652.6,1066.1 1659.0,1052.8 1665.5,1039.4 1672.1,1026.0 1678.8,1012.7 1685.3,999.3 1691.9,985.9 1698.2,972.6 1704.6,959.2 1710.8,945.8 1717.0,932.5 1723.1,919.1 1728.7,905.8 1734.3,892.4 1740.3,879.0 1746.5,865.7 1753.0,852.3 1759.6,838.9 1766.3,825.6 1772.8,812.2 1779.4,798.8 1786.0,789.9 1792.6,776.6 1799.3,767.6 1805.9,754.3 1812.6,740.9 1818.8,727.5 1824.9,714.2 1831.4,700.8 1837.9,687.5 1844.7,674.1 1851.3,665.2 1858.0,651.8 1864.6,642.9 1871.2,629.5 1877.9,620.6 1884.7,611.7 1891.4,602.8 1897.9,589.4 1904.5,580.5 1911.3,567.2 1917.9,558.3 1924.6,544.9 1931.4,536.0 1937.9,527.1 1944.6,513.7 1951.1,504.8 1957.8,500.3 1964.5,491.4 1971.3,487.0 1978.1,478.1 1984.7,473.6 1991.4,469.2 1998.0,460.2 2004.6,455.8 2011.1,455.8 2017.9,451.3 2024.9,446.9 2031.8,446.9 2038.6,442.4 2045.4,438.0 2052.2,433.5 2059.0,433.5 2065.9,429.1 2072.4,429.1 2078.9,424.6 2085.5,420.2 2092.4,420.2 2099.2,415.7 2106.1,411.2 2112.9,406.8 2119.6,402.3 2124.7,402.3" fill="none" stroke="#ff00ff" stroke-width="12" stroke-linejoin="round"/>
<use xlink:href="#m_B400" x="1520.0" y="1382.4"/><use xlink:href="#m_B400" x="1523.0" y="1369.1"/><use xlink:href="#m_B400" x="1525.3" y="1355.7"/><use xlink:href="#m_B400" x="1528.0" y="1342.3"/><use xlink:href="#m_B400" x="1531.8" y="1329.0"/><use xlink:href="#m_B400" x="1537.9" y="1315.6"/><use xlink:href="#m_B400" x="1544.6" y="1302.2"/><use xlink:href="#m_B400" x="1551.3" y="1293.3"/><use xlink:href="#m_B400" x="1557.9" y="1280.0"/><use xlink:href="#m_B400" x="1564.6" y="1266.6"/><use xlink:href="#m_B400" x="1571.2" y="1253.2"/><use xlink:href="#m_B400" x="1577.7" y="1239.9"/><use xlink:href="#m_B400" x="1583.9" y="1226.5"/><use xlink:href="#m_B400" x="1589.3" y="1213.1"/><use xlink:href="#m_B400" x="1594.5" y="1199.8"/><use xlink:href="#m_B400" x="1599.8" y="1186.4"/><use xlink:href="#m_B400" x="1605.4" y="1173.0"/><use xlink:href="#m_B400" x="1611.3" y="1159.7"/><use xlink:href="#m_B400" x="1617.3" y="1146.3"/><use xlink:href="#m_B400" x="1623.1" y="1133.0"/><use xlink:href="#m_B400" x="1628.7" y="1119.6"/><use xlink:href="#m_B400" x="1634.6" y="1106.2"/><use xlink:href="#m_B400" x="1640.5" y="1092.9"/><use xlink:href="#m_B400" x="1646.5" y="1079.5"/><use xlink:href="#m_B400" x="1652.6" y="1066.1"/><use xlink:href="#m_B400" x="1659.0" y="1052.8"/><use xlink:href="#m_B400" x="1665.5" y="1039.4"/><use xlink:href="#m_B400" x="1672.1" y="1026.0"/><use xlink:href="#m_B400" x="1678.8" y="1012.7"/><use xlink:href="#m_B400" x="1685.3" y="999.3"/><use xlink:href="#m_B400" x="1691.9" y="985.9"/><use xlink:href="#m_B400" x="1698.2" y="972.6"/><use xlink:href="#m_B400" x="1704.6" y="959.2"/><use xlink:href="#m_B400" x="1710.8" y="945.8"/><use xlink:href="#m_B400" x="1717.0" y="932.5"/><use xlink:href="#m_B400" x="1723.1" y="919.1"/><use xlink:href="#m_B400" x="1728.7" y="905.8"/><use xlink:href="#m_B400" x="1734.3" y="892.4"/><use xlink:href="#m_B400" x="1740.3" y="879.0"/><use xlink:href="#m_B400" x="1746.5" y="865.7"/><use xlink:href="#m_B400" x="1753.0" y="852.3"/><use xlink:href="#m_B400" x="1759.6" y="838.9"/><use xlink:href="#m_B400" x="1766.3" y="825.6"/><use xlink:href="#m_B400" x="1772.8" y="812.2"/><use xlink:href="#m_B400" x="1779.4" y="798.8"/><use xlink:href="#m_B400" x="1786.0" y="789.9"/><use xlink:href="#m_B400" x="1792.6" y="776.6"/><use xlink:href="#m_B400" x="1799.3" y="767.6"/><use xlink:href="#m_B400" x="1805.9" y="754.3"/><use xlink:href="#m_B400" x="1812.6" y="740.9"/><use xlink:href="#m_B400" x="1818.8" y="727.5"/><use xlink:href="#m_B400" x="1824.9" y="714.2"/><use xlink:href="#m_B400" x="1831.4" y="700.8"/><use xlink:href="#m_B400" x="1837.9" y="687.5"/><use xlink:href="#m_B400" x="1844.7" y="674.1"/><use xlink:href="#m_B400" x="1851.3" y="665.2"/><use xlink:href="#m_B400" x="1858.0" y="651.8"/><use xlink:href="#m_B400" x="1864.6" y="642.9"/><use xlink:href="#m_B400" x="1871.2" y="629.5"/><use xlink:href="#m_B400" x="1877.9" y="620.6"/><use xlink:href="#m_B400" x="1884.7" y="611.7"/><use xlink:href="#m_B400" x="1891.4" y="602.8"/><use xlink:href="#m_B400" x="1897.9" y="589.4"/><use xlink:href="#m_B400" x="1904.5" y="580.5"/><use xlink:href="#m_B400" x="1911.3" y="567.2"/><use xlink:href="#m_B400" x="1917.9" y="558.3"/><use xlink:href="#m_B400" x="1924.6" y="544.9"/><use xlink:href="#m_B400" x="1931.4" y="536.0"/><use xlink:href="#m_B400" x="1937.9" y="527.1"/><use xlink:href="#m_B400" x="1944.6" y="513.7"/><use xlink:href="#m_B400" x="1951.1" y="504.8"/><use xlink:href="#m_B400" x="1957.8" y="500.3"/><use xlink:href="#m_B400" x="1964.5" y="491.4"/><use xlink:href="#m_B400" x="1971.3" y="487.0"/><use xlink:href="#m_B400" x="1978.1" y="478.1"/><use xlink:href="#m_B400" x="1984.7" y="473.6"/><use xlink:href="#m_B400" x="1991.4" y="469.2"/><use xlink:href="#m_B400" x="1998.0" y="460.2"/><use xlink:href="#m_B400" x="2004.6" y="455.8"/><use xlink:href="#m_B400" x="2011.1" y="455.8"/><use xlink:href="#m_B400" x="2017.9" y="451.3"/><use xlink:href="#m_B400" x="2024.9" y="446.9"/><use xlink:href="#m_B400" x="2031.8" y="446.9"/><use xlink:href="#m_B400" x="2038.6" y="442.4"/><use xlink:href="#m_B400" x="2045.4" y="438.0"/><use xlink:href="#m_B400" x="2052.2" y="433.5"/><use xlink:href="#m_B400" x="2059.0" y="433.5"/><use xlink:href="#m_B400" x="2065.9" y="429.1"/><use xlink:href="#m_B400" x="2072.4" y="429.1"/><use xlink:href="#m_B400" x="2078.9" y="424.6"/><use xlink:href="#m_B400" x="2085.5" y="420.2"/><use xlink:href="#m_B400" x="2092.4" y="420.2"/><use xlink:href="#m_B400" x="2099.2" y="415.7"/><use xlink:href="#m_B400" x="2106.1" y="411.2"/><use xlink:href="#m_B400" x="2112.9" y="406.8"/><use xlink:href="#m_B400" x="2119.6" y="402.3"/><use xlink:href="#m_B400" x="2124.7" y="402.3"/>
</g>
<g fill="#008000">
<polyline points="842.0,1373.5 848.0,1360.2 853.9,1346.8 859.8,1333.4 865.8,1320.1 871.7,1306.7 877.7,1293.3 883.8,1280.0 890.0,1262.1 896.2,1248.8 902.4,1235.4 908.7,1222.1 915.0,1208.7 921.2,1195.3 927.5,1182.0 933.7,1168.6 940.0,1155.2 946.2,1141.9 952.5,1128.5 958.8,1115.1 965.1,1101.8 971.5,1088.4 977.8,1075.0 984.0,1061.7 990.2,1048.3 996.4,1030.5 1002.6,1017.1 1009.3,1003.8 1015.9,990.4 1022.2,977.0 1028.5,963.7 1034.8,950.3 1041.1,936.9 1047.3,923.6 1053.6,910.2 1059.9,896.8 1066.2,883.5 1072.6,870.1 1078.9,856.7 1085.3,843.4 1091.7,830.0 1098.2,816.6 1104.6,803.3 1111.1,789.9 1117.5,776.6 1124.0,763.2 1130.7,749.8 1137.3,736.5 1143.9,723.1 1150.6,709.7 1157.3,700.8 1163.8,687.5 1170.3,678.5 1177.0,669.6 1183.7,656.3 1190.5,647.4 1197.1,634.0 1203.7,620.6 1210.3,611.7 1217.0,598.4 1223.6,585.0 1230.3,571.6 1237.0,558.3 1243.6,549.3 1250.3,536.0 1256.8,527.1 1263.5,513.7 1270.0,504.8 1276.7,491.4 1283.3,482.5 1289.9,473.6 1296.7,464.7 1303.3,460.2 1309.9,451.3 1316.6,442.4 1323.3,433.5 1329.9,429.1 1336.5,420.2 1343.3,411.2 1350.0,402.3 1356.7,397.9 1363.5,389.0 1370.3,384.5 1376.9,380.1 1383.9,375.6 1390.5,371.1 1397.4,366.7 1403.9,362.2 1410.6,357.8 1417.4,357.8 1423.9,353.3 1430.6,353.3 1437.6,348.9 1444.5,348.9 1451.5,348.9 1458.5,348.9 1465.3,348.9 1472.1,344.4 1478.8,344.4 1485.5,340.0 1492.2,340.0 1499.1,335.5 1505.9,335.5 1512.8,335.5 1519.6,335.5 1526.5,331.1 1533.4,331.1 1540.3,331.1 1547.1,326.6 1554.0,326.6 1560.9,326.6 1567.8,326.6 1574.7,322.1 1581.6,322.1 1588.5,322.1 1595.4,317.7 1602.3,317.7 1609.2,317.7 1616.1,317.7 1623.1,313.2 1630.0,313.2 1636.9,313.2 1643.8,313.2 1650.7,308.8 1657.6,308.8 1664.5,308.8 1671.4,308.8 1678.3,304.3 1685.2,304.3 1692.1,304.3 1699.0,304.3 1705.9,299.9 1712.8,299.9 1719.7,299.9 1726.6,299.9 1733.5,295.4 1740.4,295.4 1747.2,295.4 1754.1,291.0 1761.0,291.0 1767.9,291.0 1774.8,291.0 1781.7,286.5 1788.5,286.5 1795.4,286.5 1802.3,282.0 1809.2,282.0 1816.1,282.0 1823.0,282.0 1829.9,277.6 1836.8,277.6 1843.6,277.6 1850.5,273.1 1857.4,273.1 1864.3,273.1 1871.2,273.1 1878.1,268.7 1885.1,268.7 1892.0,268.7 1898.9,268.7 1905.8,264.2 1912.8,264.2 1919.7,264.2 1926.6,264.2 1933.5,264.2 1940.5,259.8 1947.4,259.8 1954.3,259.8 1961.2,259.8 1968.2,255.3 1975.1,255.3 1982.0,255.3 1988.9,255.3 1995.8,250.9 2002.6,250.9 2009.5,250.9 2016.4,246.4 2023.3,246.4 2030.1,246.4 2037.0,246.4 2043.8,242.0 2050.7,242.0 2057.5,242.0 2064.4,237.5 2071.2,237.5 2078.1,237.5 2084.9,233.0 2091.8,233.0 2098.6,233.0 2105.5,228.6 2112.3,228.6 2119.2,228.6 2124.6,224.1" fill="none" stroke="#008000" stroke-width="12" stroke-linejoin="round"/>
<use xlink:href="#m_C300" x="842.0" y="1373.5"/><use xlink:href="#m_C300" x="848.0" y="1360.2"/><use xlink:href="#m_C300" x="853.9" y="1346.8"/><use xlink:href="#m_C300" x="859.8" y="1333.4"/><use xlink:href="#m_C300" x="865.8" y="1320.1"/><use xlink:href="#m_C300" x="871.7" y="1306.7"/><use xlink:href="#m_C300" x="877.7" y="1293.3"/><use xlink:href="#m_C300" x="883.8" y="1280.0"/><use xlink:href="#m_C300" x="890.0" y="1262.1"/><use xlink:href="#m_C300" x="896.2" y="1248.8"/><use xlink:href="#m_C300" x="902.4" y="1235.4"/><use xlink:href="#m_C300" x="908.7" y="1222.1"/><use xlink:href="#m_C300" x="915.0" y="1208.7"/><use xlink:href="#m_C300" x="921.2" y="1195.3"/><use xlink:href="#m_C300" x="927.5" y="1182.0"/><use xlink:href="#m_C300" x="933.7" y="1168.6"/><use xlink:href="#m_C300" x="940.0" y="1155.2"/><use xlink:href="#m_C300" x="946.2" y="1141.9"/><use xlink:href="#m_C300" x="952.5" y="1128.5"/><use xlink:href="#m_C300" x="958.8" y="1115.1"/><use xlink:href="#m_C300" x="965.1" y="1101.8"/><use xlink:href="#m_C300" x="971.5" y="1088.4"/><use xlink:href="#m_C300" x="977.8" y="1075.0"/><use xlink:href="#m_C300" x="984.0" y="1061.7"/><use xlink:href="#m_C300" x="990.2" y="1048.3"/><use xlink:href="#m_C300" x="996.4" y="1030.5"/><use xlink:href="#m_C300" x="1002.6" y="1017.1"/><use xlink:href="#m_C300" x="1009.3" y="1003.8"/><use xlink:href="#m_C300" x="1015.9" y="990.4"/><use xlink:href="#m_C300" x="1022.2" y="977.0"/><use xlink:href="#m_C300" x="1028.5" y="963.7"/><use xlink:href="#m_C300" x="1034.8" y="950.3"/><use xlink:href="#m_C300" x="1041.1" y="936.9"/><use xlink:href="#m_C300" x="1047.3" y="923.6"/><use xlink:href="#m_C300" x="1053.6" y="910.2"/><use xlink:href="#m_C300" x="1059.9" y="896.8"/><use xlink:href="#m_C300" x="1066.2" y="883.5"/><use xlink:href="#m_C300" x="1072.6" y="870.1"/><use xlink:href="#m_C300" x="1078.9" y="856.7"/><use xlink:href="#m_C300" x="1085.3" y="843.4"/><use xlink:href="#m_C300" x="1091.7" y="830.0"/><use xlink:href="#m_C300" x="1098.2" y="816.6"/><use xlink:href="#m_C300" x="1104.6" y="803.3"/><use xlink:href="#m_C300" x="1111.1" y="789.9"/><use xlink:href="#m_C300" x="1117.5" y="776.6"/><use xlink:href="#m_C300" x="1124.0" y="763.2"/><use xlink:href="#m_C300" x="1130.7" y="749.8"/><use xlink:href="#m_C300" x="1137.3" y="736.5"/><use xlink:href="#m_C300" x="1143.9" y="723.1"/><use xlink:href="#m_C300" x="1150.6" y="709.7"/><use xlink:href="#m_C300" x="1157.3" y="700.8"/><use xlink:href="#m_C300" x="1163.8" y="687.5"/><use xlink:href="#m_C300" x="1170.3" y="678.5"/><use xlink:href="#m_C300" x="1177.0" y="669.6"/><use xlink:href="#m_C300" x="1183.7" y="656.3"/><use xlink:href="#m_C300" x="1190.5" y="647.4"/><use xlink:href="#m_C300" x="1197.1" y="634.0"/><use xlink:href="#m_C300" x="1203.7" y="620.6"/><use xlink:href="#m_C300" x="1210.3" y="611.7"/><use xlink:href="#m_C300" x="1217.0" y="598.4"/><use xlink:href="#m_C300" x="1223.6" y="585.0"/><use xlink:href="#m_C300" x="1230.3" y="571.6"/><use xlink:href="#m_C300" x="1237.0" y="558.3"/><use xlink:href="#m_C300" x="1243.6" y="549.3"/><use xlink:href="#m_C300" x="1250.3" y="536.0"/><use xlink:href="#m_C300" x="1256.8" y="527.1"/><use xlink:href="#m_C300" x="1263.5" y="513.7"/><use xlink:href="#m_C300" x="1270.0" y="504.8"/><use xlink:href="#m_C300" x="1276.7" y="491.4"/><use xlink:href="#m_C300" x="1283.3" y="482.5"/><use xlink:href="#m_C300" x="1289.9" y="473.6"/><use xlink:href="#m_C300" x="1296.7" y="464.7"/><use xlink:href="#m_C300" x="1303.3" y="460.2"/><use xlink:href="#m_C300" x="1309.9" y="451.3"/><use xlink:href="#m_C300" x="1316.6" y="442.4"/><use xlink:href="#m_C300" x="1323.3" y="433.5"/><use xlink:href="#m_C300" x="1329.9" y="429.1"/><use xlink:href="#m_C300" x="1336.5" y="420.2"/><use xlink:href="#m_C300" x="1343.3" y="411.2"/><use xlink:href="#m_C300" x="1350.0" y="402.3"/><use xlink:href="#m_C300" x="1356.7" y="397.9"/><use xlink:href="#m_C300" x="1363.5" y="389.0"/><use xlink:href="#m_C300" x="1370.3" y="384.5"/><use xlink:href="#m_C300" x="1376.9" y="380.1"/><use xlink:href="#m_C300" x="1383.9" y="375.6"/><use xlink:href="#m_C300" x="1390.5" y="371.1"/><use xlink:href="#m_C300" x="1397.4" y="366.7"/><use xlink:href="#m_C300" x="1403.9" y="362.2"/><use xlink:href="#m_C300" x="1410.6" y="357.8"/><use xlink:href="#m_C300" x="1417.4" y="357.8"/><use xlink:href="#m_C300" x="1423.9" y="353.3"/><use xlink:href="#m_C300" x="1430.6" y="353.3"/><use xlink:href="#m_C300" x="1437.6" y="348.9"/><use xlink:href="#m_C300" x="1444.5" y="348.9"/><use xlink:href="#m_C300" x="1451.5" y="348.9"/><use xlink:href="#m_C300" x="1458.5" y="348.9"/><use xlink:href="#m_C300" x="1465.3" y="348.9"/><use xlink:href="#m_C300" x="1472.1" y="344.4"/><use xlink:href="#m_C300" x="1478.8" y="344.4"/><use xlink:href="#m_C300" x="1485.5" y="340.0"/><use xlink:href="#m_C300" x="1492.2" y="340.0"/><use xlink:href="#m_C300" x="1499.1" y="335.5"/><use xlink:href="#m_C300" x="1505.9" y="335.5"/><use xlink:href="#m_C300" x="1512.8" y="335.5"/><use xlink:href="#m_C300" x="1519.6" y="335.5"/><use xlink:href="#m_C300" x="1526.5" y="331.1"/><use xlink:href="#m_C300" x="1533.4" y="331.1"/><use xlink:href="#m_C300" x="1540.3" y="331.1"/><use xlink:href="#m_C300" x="1547.1" y="326.6"/><use xlink:href="#m_C300" x="1554.0" y="326.6"/><use xlink:href="#m_C300" x="1560.9" y="326.6"/><use xlink:href="#m_C300" x="1567.8" y="326.6"/><use xlink:href="#m_C300" x="1574.7" y="322.1"/><use xlink:href="#m_C300" x="1581.6" y="322.1"/><use xlink:href="#m_C300" x="1588.5" y="322.1"/><use xlink:href="#m_C300" x="1595.4" y="317.7"/><use xlink:href="#m_C300" x="1602.3" y="317.7"/><use xlink:href="#m_C300" x="1609.2" y="317.7"/><use xlink:href="#m_C300" x="1616.1" y="317.7"/><use xlink:href="#m_C300" x="1623.1" y="313.2"/><use xlink:href="#m_C300" x="1630.0" y="313.2"/><use xlink:href="#m_C300" x="1636.9" y="313.2"/><use xlink:href="#m_C300" x="1643.8" y="313.2"/><use xlink:href="#m_C300" x="1650.7" y="308.8"/><use xlink:href="#m_C300" x="1657.6" y="308.8"/><use xlink:href="#m_C300" x="1664.5" y="308.8"/><use xlink:href="#m_C300" x="1671.4" y="308.8"/><use xlink:href="#m_C300" x="1678.3" y="304.3"/><use xlink:href="#m_C300" x="1685.2" y="304.3"/><use xlink:href="#m_C300" x="1692.1" y="304.3"/><use xlink:href="#m_C300" x="1699.0" y="304.3"/><use xlink:href="#m_C300" x="1705.9" y="299.9"/><use xlink:href="#m_C300" x="1712.8" y="299.9"/><use xlink:href="#m_C300" x="1719.7" y="299.9"/><use xlink:href="#m_C300" x="1726.6" y="299.9"/><use xlink:href="#m_C300" x="1733.5" y="295.4"/><use xlink:href="#m_C300" x="1740.4" y="295.4"/><use xlink:href="#m_C300" x="1747.2" y="295.4"/><use xlink:href="#m_C300" x="1754.1" y="291.0"/><use xlink:href="#m_C300" x="1761.0" y="291.0"/><use xlink:href="#m_C300" x="1767.9" y="291.0"/><use xlink:href="#m_C300" x="1774.8" y="291.0"/><use xlink:href="#m_C300" x="1781.7" y="286.5"/><use xlink:href="#m_C300" x="1788.5" y="286.5"/><use xlink:href="#m_C300" x="1795.4" y="286.5"/><use xlink:href="#m_C300" x="1802.3" y="282.0"/><use xlink:href="#m_C300" x="1809.2" y="282.0"/><use xlink:href="#m_C300" x="1816.1" y="282.0"/><use xlink:href="#m_C300" x="1823.0" y="282.0"/><use xlink:href="#m_C300" x="1829.9" y="277.6"/><use xlink:href="#m_C300" x="1836.8" y="277.6"/><use xlink:href="#m_C300" x="1843.6" y="277.6"/><use xlink:href="#m_C300" x="1850.5" y="273.1"/><use xlink:href="#m_C300" x="1857.4" y="273.1"/><use xlink:href="#m_C300" x="1864.3" y="273.1"/><use xlink:href="#m_C300" x="1871.2" y="273.1"/><use xlink:href="#m_C300" x="1878.1" y="268.7"/><use xlink:href="#m_C300" x="1885.1" y="268.7"/><use xlink:href="#m_C300" x="1892.0" y="268.7"/><use xlink:href="#m_C300" x="1898.9" y="268.7"/><use xlink:href="#m_C300" x="1905.8" y="264.2"/><use xlink:href="#m_C300" x="1912.8" y="264.2"/><use xlink:href="#m_C300" x="1919.7" y="264.2"/><use xlink:href="#m_C300" x="1926.6" y="264.2"/><use xlink:href="#m_C300" x="1933.5" y="264.2"/><use xlink:href="#m_C300" x="1940.5" y="259.8"/><use xlink:href="#m_C300" x="1947.4" y="259.8"/><use xlink:href="#m_C300" x="1954.3" y="259.8"/><use xlink:href="#m_C300" x="1961.2" y="259.8"/><use xlink:href="#m_C300" x="1968.2" y="255.3"/><use xlink:href="#m_C300" x="1975.1" y="255.3"/><use xlink:href="#m_C300" x="1982.0" y="255.3"/><use xlink:href="#m_C300" x="1988.9" y="255.3"/><use xlink:href="#m_C300" x="1995.8" y="250.9"/><use xlink:href="#m_C300" x="2002.6" y="250.9"/><use xlink:href="#m_C300" x="2009.5" y="250.9"/><use xlink:href="#m_C300" x="2016.4" y="246.4"/><use xlink:href="#m_C300" x="2023.3" y="246.4"/><use xlink:href="#m_C300" x="2030.1" y="246.4"/><use xlink:href="#m_C300" x="2037.0" y="246.4"/><use xlink:href="#m_C300" x="2043.8" y="242.0"/><use xlink:href="#m_C300" x="2050.7" y="242.0"/><use xlink:href="#m_C300" x="2057.5" y="242.0"/><use xlink:href="#m_C300" x="2064.4" y="237.5"/><use xlink:href="#m_C300" x="2071.2" y="237.5"/><use xlink:href="#m_C300" x="2078.1" y="237.5"/><use xlink:href="#m_C300" x="2084.9" y="233.0"/><use xlink:href="#m_C300" x="2091.8" y="233.0"/><use xlink:href="#m_C300" x="2098.6" y="233.0"/><use xlink:href="#m_C300" x="2105.5" y="228.6"/><use xlink:href="#m_C300" x="2112.3" y="228.6"/><use xlink:href="#m_C300" x="2119.2" y="228.6"/><use xlink:href="#m_C300" x="2124.6" y="224.1"/>
</g>
<g fill="#000080">
<polyline points="1590.0,1382.4 1596.5,1373.5 1603.2,1360.2 1609.8,1346.8 1616.1,1333.4 1621.7,1320.1 1626.7,1302.2 1631.6,1288.9 1636.9,1275.5 1642.4,1262.1 1648.2,1248.8 1654.3,1235.4 1660.5,1222.1 1666.9,1208.7 1673.4,1195.3 1680.0,1182.0 1686.8,1168.6 1693.3,1155.2 1700.0,1141.9 1706.5,1128.5 1713.0,1115.1 1719.4,1101.8 1725.7,1088.4 1731.9,1075.0 1738.0,1061.7 1744.2,1048.3 1750.4,1034.9 1756.8,1021.6 1763.1,1008.2 1769.4,994.8 1775.6,977.0 1781.9,963.7 1788.1,950.3 1794.3,936.9 1800.4,923.6 1806.3,910.2 1811.9,896.8 1817.8,883.5 1824.4,870.1 1831.0,856.7 1837.5,843.4 1844.3,834.5 1851.0,821.1 1857.5,807.7 1864.0,794.4 1870.6,781.0 1877.1,772.1 1883.7,758.7 1890.3,745.4 1896.9,732.0 1903.6,718.6 1910.2,705.3 1916.8,696.4 1923.4,683.0 1930.0,669.6 1936.7,656.3 1943.4,647.4 1949.9,634.0 1956.6,620.6 1963.1,611.7 1969.7,598.4 1976.3,589.4 1982.8,580.5 1989.4,571.6 1996.1,562.7 2002.8,553.8 2009.4,540.4 2015.9,531.5 2022.6,518.2 2029.3,509.3 2035.8,500.3 2042.4,491.4 2049.0,482.5 2055.6,473.6 2062.2,464.7 2068.9,455.8 2075.5,446.9 2082.1,438.0 2088.8,433.5 2095.3,424.6 2102.1,415.7 2108.8,411.2 2115.7,406.8 2122.4,402.3 2125.0,402.3" fill="none" stroke="#000080" stroke-width="12" stroke-linejoin="round"/>
<use xlink:href="#m_C400" x="1590.0" y="1382.4"/><use xlink:href="#m_C400" x="1596.5" y="1373.5"/><use xlink:href="#m_C400" x="1603.2" y="1360.2"/><use xlink:href="#m_C400" x="1609.8" y="1346.8"/><use xlink:href="#m_C400" x="1616.1" y="1333.4"/><use xlink:href="#m_C400" x="1621.7" y="1320.1"/><use xlink:href="#m_C400" x="1626.7" y="1302.2"/><use xlink:href="#m_C400" x="1631.6" y="1288.9"/><use xlink:href="#m_C400" x="1636.9" y="1275.5"/><use xlink:href="#m_C400" x="1642.4" y="1262.1"/><use xlink:href="#m_C400" x="1648.2" y="1248.8"/><use xlink:href="#m_C400" x="1654.3" y="1235.4"/><use xlink:href="#m_C400" x="1660.5" y="1222.1"/><use xlink:href="#m_C400" x="1666.9" y="1208.7"/><use xlink:href="#m_C400" x="1673.4" y="1195.3"/><use xlink:href="#m_C400" x="1680.0" y="1182.0"/><use xlink:href="#m_C400" x="1686.8" y="1168.6"/><use xlink:href="#m_C400" x="1693.3" y="1155.2"/><use xlink:href="#m_C400" x="1700.0" y="1141.9"/><use xlink:href="#m_C400" x="1706.5" y="1128.5"/><use xlink:href="#m_C400" x="1713.0" y="1115.1"/><use xlink:href="#m_C400" x="1719.4" y="1101.8"/><use xlink:href="#m_C400" x="1725.7" y="1088.4"/><use xlink:href="#m_C400" x="1731.9" y="1075.0"/><use xlink:href="#m_C400" x="1738.0" y="1061.7"/><use xlink:href="#m_C400" x="1744.2" y="1048.3"/><use xlink:href="#m_C400" x="1750.4" y="1034.9"/><use xlink:href="#m_C400" x="1756.8" y="1021.6"/><use xlink:href="#m_C400" x="1763.1" y="1008.2"/><use xlink:href="#m_C400" x="1769.4" y="994.8"/><use xlink:href="#m_C400" x="1775.6" y="977.0"/><use xlink:href="#m_C400" x="1781.9" y="963.7"/><use xlink:href="#m_C400" x="1788.1" y="950.3"/><use xlink:href="#m_C400" x="1794.3" y="936.9"/><use xlink:href="#m_C400" x="1800.4" y="923.6"/><use xlink:href="#m_C400" x="1806.3" y="910.2"/><use xlink:href="#m_C400" x="1811.9" y="896.8"/><use xlink:href="#m_C400" x="1817.8" y="883.5"/><use xlink:href="#m_C400" x="1824.4" y="870.1"/><use xlink:href="#m_C400" x="1831.0" y="856.7"/><use xlink:href="#m_C400" x="1837.5" y="843.4"/><use xlink:href="#m_C400" x="1844.3" y="834.5"/><use xlink:href="#m_C400" x="1851.0" y="821.1"/><use xlink:href="#m_C400" x="1857.5" y="807.7"/><use xlink:href="#m_C400" x="1864.0" y="794.4"/><use xlink:href="#m_C400" x="1870.6" y="781.0"/><use xlink:href="#m_C400" x="1877.1" y="772.1"/><use xlink:href="#m_C400" x="1883.7" y="758.7"/><use xlink:href="#m_C400" x="1890.3" y="745.4"/><use xlink:href="#m_C400" x="1896.9" y="732.0"/><use xlink:href="#m_C400" x="1903.6" y="718.6"/><use xlink:href="#m_C400" x="1910.2" y="705.3"/><use xlink:href="#m_C400" x="1916.8" y="696.4"/><use xlink:href="#m_C400" x="1923.4" y="683.0"/><use xlink:href="#m_C400" x="1930.0" y="669.6"/><use xlink:href="#m_C400" x="1936.7" y="656.3"/><use xlink:href="#m_C400" x="1943.4" y="647.4"/><use xlink:href="#m_C400" x="1949.9" y="634.0"/><use xlink:href="#m_C400" x="1956.6" y="620.6"/><use xlink:href="#m_C400" x="1963.1" y="611.7"/><use xlink:href="#m_C400" x="1969.7" y="598.4"/><use xlink:href="#m_C400" x="1976.3" y="589.4"/><use xlink:href="#m_C400" x="1982.8" y="580.5"/><use xlink:href="#m_C400" x="1989.4" y="571.6"/><use xlink:href="#m_C400" x="1996.1" y="562.7"/><use xlink:href="#m_C400" x="2002.8" y="553.8"/><use xlink:href="#m_C400" x="2009.4" y="540.4"/><use xlink:href="#m_C400" x="2015.9" y="531.5"/><use xlink:href="#m_C400" x="2022.6" y="518.2"/><use xlink:href="#m_C400" x="2029.3" y="509.3"/><use xlink:href="#m_C400" x="2035.8" y="500.3"/><use xlink:href="#m_C400" x="2042.4" y="491.4"/><use xlink:href="#m_C400" x="2049.0" y="482.5"/><use xlink:href="#m_C400" x="2055.6" y="473.6"/><use xlink:href="#m_C400" x="2062.2" y="464.7"/><use xlink:href="#m_C400" x="2068.9" y="455.8"/><use xlink:href="#m_C400" x="2075.5" y="446.9"/><use xlink:href="#m_C400" x="2082.1" y="438.0"/><use xlink:href="#m_C400" x="2088.8" y="433.5"/><use xlink:href="#m_C400" x="2095.3" y="424.6"/><use xlink:href="#m_C400" x="2102.1" y="415.7"/><use xlink:href="#m_C400" x="2108.8" y="411.2"/><use xlink:href="#m_C400" x="2115.7" y="406.8"/><use xlink:href="#m_C400" x="2122.4" y="402.3"/><use xlink:href="#m_C400" x="2125.0" y="402.3"/>
</g>
<g fill="#8000ff">
<polyline points="910.0,1382.4 914.4,1369.1 919.8,1355.7 925.2,1342.3 930.7,1329.0 936.2,1315.6 941.7,1302.2 947.6,1284.4 953.6,1271.1 959.8,1257.7 966.2,1244.3 972.5,1231.0 978.9,1217.6 985.3,1204.2 991.5,1190.9 997.5,1177.5 1002.9,1164.1 1008.3,1150.8 1014.3,1137.4 1020.9,1124.0 1027.5,1115.1 1034.2,1101.8 1040.9,1092.9 1047.7,1083.9 1054.3,1070.6 1059.8,1057.2 1064.5,1043.9 1069.0,1030.5 1074.1,1017.1 1080.6,1003.8 1087.3,994.8 1093.9,981.5 1100.6,968.1 1107.3,954.8 1113.9,941.4 1120.4,928.0 1127.0,914.7 1133.7,901.3 1140.4,887.9 1146.9,874.6 1153.4,861.2 1160.0,847.8 1166.6,834.5 1173.1,825.6 1179.7,812.2 1186.3,798.8 1192.8,785.5 1199.3,772.1 1205.9,758.7 1212.5,745.4 1219.1,732.0 1225.7,723.1 1232.2,709.7 1238.9,700.8 1245.7,687.5 1252.4,678.5 1259.1,665.2 1265.8,651.8 1272.4,642.9 1279.0,629.5 1285.7,616.2 1292.4,607.3 1299.1,598.4 1305.8,585.0 1312.3,571.6 1318.9,558.3 1325.4,549.3 1332.1,540.4 1338.7,531.5 1345.4,518.2 1352.1,509.3 1358.6,500.3 1365.2,487.0 1371.7,478.1 1378.5,469.2 1385.2,460.2 1392.0,451.3 1398.7,442.4 1405.5,433.5 1412.3,424.6 1418.9,420.2 1425.5,411.2 1432.2,406.8 1439.0,397.9 1445.6,393.4 1452.2,384.5 1458.7,380.1 1465.6,375.6 1472.5,371.1 1479.2,371.1 1486.2,366.7 1492.8,362.2 1499.4,362.2 1506.0,357.8 1512.7,357.8 1519.4,353.3 1526.2,353.3 1533.0,353.3 1539.8,348.9 1546.6,348.9 1553.5,348.9 1560.4,344.4 1567.3,344.4 1574.2,344.4 1581.1,344.4 1588.0,340.0 1594.9,340.0 1601.8,340.0 1608.7,340.0 1615.6,335.5 1622.5,335.5 1629.4,335.5 1636.4,335.5 1643.3,331.1 1650.2,331.1 1657.1,331.1 1664.0,331.1 1670.9,326.6 1677.8,326.6 1684.7,326.6 1691.5,322.1 1698.4,322.1 1705.3,322.1 1712.2,322.1 1719.1,317.7 1725.9,317.7 1732.8,317.7 1739.7,313.2 1746.5,313.2 1753.4,313.2 1760.3,308.8 1767.1,308.8 1774.0,308.8 1780.9,308.8 1787.7,304.3 1794.6,304.3 1801.4,304.3 1808.3,299.9 1815.2,299.9 1822.0,299.9 1828.9,295.4 1835.8,295.4 1842.7,295.4 1849.5,291.0 1856.4,291.0 1863.3,291.0 1870.2,291.0 1877.1,286.5 1884.0,286.5 1890.9,286.5 1897.8,286.5 1904.7,282.0 1911.7,282.0 1918.6,282.0 1925.5,282.0 1932.4,277.6 1939.4,277.6 1946.3,277.6 1953.2,277.6 1960.1,277.6 1967.1,273.1 1974.0,273.1 1980.9,273.1 1987.8,273.1 1994.7,268.7 2001.7,268.7 2008.6,268.7 2015.5,268.7 2022.4,264.2 2029.3,264.2 2036.2,264.2 2043.1,264.2 2050.0,259.8 2056.9,259.8 2063.8,259.8 2070.7,259.8 2077.6,255.3 2084.5,255.3 2091.4,255.3 2098.3,250.9 2105.2,250.9 2112.1,250.9 2119.0,250.9 2124.9,246.4" fill="none" stroke="#8000ff" stroke-width="12" stroke-linejoin="round"/>
<use xlink:href="#m_D300" x="910.0" y="1382.4"/><use xlink:href="#m_D300" x="914.4" y="1369.1"/><use xlink:href="#m_D300" x="919.8" y="1355.7"/><use xlink:href="#m_D300" x="925.2" y="1342.3"/><use xlink:href="#m_D300" x="930.7" y="1329.0"/><use xlink:href="#m_D300" x="936.2" y="1315.6"/><use xlink:href="#m_D300" x="941.7" y="1302.2"/><use xlink:href="#m_D300" x="947.6" y="1284.4"/><use xlink:href="#m_D300" x="953.6" y="1271.1"/><use xlink:href="#m_D300" x="959.8" y="1257.7"/><use xlink:href="#m_D300" x="966.2" y="1244.3"/><use xlink:href="#m_D300" x="972.5" y="1231.0"/><use xlink:href="#m_D300" x="978.9" y="1217.6"/><use xlink:href="#m_D300" x="985.3" y="1204.2"/><use xlink:href="#m_D300" x="991.5" y="1190.9"/><use xlink:href="#m_D300" x="997.5" y="1177.5"/><use xlink:href="#m_D300" x="1002.9" y="1164.1"/><use xlink:href="#m_D300" x="1008.3" y="1150.8"/><use xlink:href="#m_D300" x="1014.3" y="1137.4"/><use xlink:href="#m_D300" x="1020.9" y="1124.0"/><use xlink:href="#m_D300" x="1027.5" y="1115.1"/><use xlink:href="#m_D300" x="1034.2" y="1101.8"/><use xlink:href="#m_D300" x="1040.9" y="1092.9"/><use xlink:href="#m_D300" x="1047.7" y="1083.9"/><use xlink:href="#m_D300" x="1054.3" y="1070.6"/><use xlink:href="#m_D300" x="1059.8" y="1057.2"/><use xlink:href="#m_D300" x="1064.5" y="1043.9"/><use xlink:href="#m_D300" x="1069.0" y="1030.5"/><use xlink:href="#m_D300" x="1074.1" y="1017.1"/><use xlink:href="#m_D300" x="1080.6" y="1003.8"/><use xlink:href="#m_D300" x="1087.3" y="994.8"/><use xlink:href="#m_D300" x="1093.9" y="981.5"/><use xlink:href="#m_D300" x="1100.6" y="968.1"/><use xlink:href="#m_D300" x="1107.3" y="954.8"/><use xlink:href="#m_D300" x="1113.9" y="941.4"/><use xlink:href="#m_D300" x="1120.4" y="928.0"/><use xlink:href="#m_D300" x="1127.0" y="914.7"/><use xlink:href="#m_D300" x="1133.7" y="901.3"/><use xlink:href="#m_D300" x="1140.4" y="887.9"/><use xlink:href="#m_D300" x="1146.9" y="874.6"/><use xlink:href="#m_D300" x="1153.4" y="861.2"/><use xlink:href="#m_D300" x="1160.0" y="847.8"/><use xlink:href="#m_D300" x="1166.6" y="834.5"/><use xlink:href="#m_D300" x="1173.1" y="825.6"/><use xlink:href="#m_D300" x="1179.7" y="812.2"/><use xlink:href="#m_D300" x="1186.3" y="798.8"/><use xlink:href="#m_D300" x="1192.8" y="785.5"/><use xlink:href="#m_D300" x="1199.3" y="772.1"/><use xlink:href="#m_D300" x="1205.9" y="758.7"/><use xlink:href="#m_D300" x="1212.5" y="745.4"/><use xlink:href="#m_D300" x="1219.1" y="732.0"/><use xlink:href="#m_D300" x="1225.7" y="723.1"/><use xlink:href="#m_D300" x="1232.2" y="709.7"/><use xlink:href="#m_D300" x="1238.9" y="700.8"/><use xlink:href="#m_D300" x="1245.7" y="687.5"/><use xlink:href="#m_D300" x="1252.4" y="678.5"/><use xlink:href="#m_D300" x="1259.1" y="665.2"/><use xlink:href="#m_D300" x="1265.8" y="651.8"/><use xlink:href="#m_D300" x="1272.4" y="642.9"/><use xlink:href="#m_D300" x="1279.0" y="629.5"/><use xlink:href="#m_D300" x="1285.7" y="616.2"/><use xlink:href="#m_D300" x="1292.4" y="607.3"/><use xlink:href="#m_D300" x="1299.1" y="598.4"/><use xlink:href="#m_D300" x="1305.8" y="585.0"/><use xlink:href="#m_D300" x="1312.3" y="571.6"/><use xlink:href="#m_D300" x="1318.9" y="558.3"/><use xlink:href="#m_D300" x="1325.4" y="549.3"/><use xlink:href="#m_D300" x="1332.1" y="540.4"/><use xlink:href="#m_D300" x="1338.7" y="531.5"/><use xlink:href="#m_D300" x="1345.4" y="518.2"/><use xlink:href="#m_D300" x="1352.1" y="509.3"/><use xlink:href="#m_D300" x="1358.6" y="500.3"/><use xlink:href="#m_D300" x="1365.2" y="487.0"/><use xlink:href="#m_D300" x="1371.7" y="478.1"/><use xlink:href="#m_D300" x="1378.5" y="469.2"/><use xlink:href="#m_D300" x="1385.2" y="460.2"/><use xlink:href="#m_D300" x="1392.0" y="451.3"/><use xlink:href="#m_D300" x="1398.7" y="442.4"/><use xlink:href="#m_D300" x="1405.5" y="433.5"/><use xlink:href="#m_D300" x="1412.3" y="424.6"/><use xlink:href="#m_D300" x="1418.9" y="420.2"/><use xlink:href="#m_D300" x="1425.5" y="411.2"/><use xlink:href="#m_D300" x="1432.2" y="406.8"/><use xlink:href="#m_D300" x="1439.0" y="397.9"/><use xlink:href="#m_D300" x="1445.6" y="393.4"/><use xlink:href="#m_D300" x="1452.2" y="384.5"/><use xlink:href="#m_D300" x="1458.7" y="380.1"/><use xlink:href="#m_D300" x="1465.6" y="375.6"/><use xlink:href="#m_D300" x="1472.5" y="371.1"/><use xlink:href="#m_D300" x="1479.2" y="371.1"/><use xlink:href="#m_D300" x="1486.2" y="366.7"/><use xlink:href="#m_D300" x="1492.8" y="362.2"/><use xlink:href="#m_D300" x="1499.4" y="362.2"/><use xlink:href="#m_D300" x="1506.0" y="357.8"/><use xlink:href="#m_D300" x="1512.7" y="357.8"/><use xlink:href="#m_D300" x="1519.4" y="353.3"/><use xlink:href="#m_D300" x="1526.2" y="353.3"/><use xlink:href="#m_D300" x="1533.0" y="353.3"/><use xlink:href="#m_D300" x="1539.8" y="348.9"/><use xlink:href="#m_D300" x="1546.6" y="348.9"/><use xlink:href="#m_D300" x="1553.5" y="348.9"/><use xlink:href="#m_D300" x="1560.4" y="344.4"/><use xlink:href="#m_D300" x="1567.3" y="344.4"/><use xlink:href="#m_D300" x="1574.2" y="344.4"/><use xlink:href="#m_D300" x="1581.1" y="344.4"/><use xlink:href="#m_D300" x="1588.0" y="340.0"/><use xlink:href="#m_D300" x="1594.9" y="340.0"/><use xlink:href="#m_D300" x="1601.8" y="340.0"/><use xlink:href="#m_D300" x="1608.7" y="340.0"/><use xlink:href="#m_D300" x="1615.6" y="335.5"/><use xlink:href="#m_D300" x="1622.5" y="335.5"/><use xlink:href="#m_D300" x="1629.4" y="335.5"/><use xlink:href="#m_D300" x="1636.4" y="335.5"/><use xlink:href="#m_D300" x="1643.3" y="331.1"/><use xlink:href="#m_D300" x="1650.2" y="331.1"/><use xlink:href="#m_D300" x="1657.1" y="331.1"/><use xlink:href="#m_D300" x="1664.0" y="331.1"/><use xlink:href="#m_D300" x="1670.9" y="326.6"/><use xlink:href="#m_D300" x="1677.8" y="326.6"/><use xlink:href="#m_D300" x="1684.7" y="326.6"/><use xlink:href="#m_D300" x="1691.5" y="322.1"/><use xlink:href="#m_D300" x="1698.4" y="322.1"/><use xlink:href="#m_D300" x="1705.3" y="322.1"/><use xlink:href="#m_D300" x="1712.2" y="322.1"/><use xlink:href="#m_D300" x="1719.1" y="317.7"/><use xlink:href="#m_D300" x="1725.9" y="317.7"/><use xlink:href="#m_D300" x="1732.8" y="317.7"/><use xlink:href="#m_D300" x="1739.7" y="313.2"/><use xlink:href="#m_D300" x="1746.5" y="313.2"/><use xlink:href="#m_D300" x="1753.4" y="313.2"/><use xlink:href="#m_D300" x="1760.3" y="308.8"/><use xlink:href="#m_D300" x="1767.1" y="308.8"/><use xlink:href="#m_D300" x="1774.0" y="308.8"/><use xlink:href="#m_D300" x="1780.9" y="308.8"/><use xlink:href="#m_D300" x="1787.7" y="304.3"/><use xlink:href="#m_D300" x="1794.6" y="304.3"/><use xlink:href="#m_D300" x="1801.4" y="304.3"/><use xlink:href="#m_D300" x="1808.3" y="299.9"/><use xlink:href="#m_D300" x="1815.2" y="299.9"/><use xlink:href="#m_D300" x="1822.0" y="299.9"/><use xlink:href="#m_D300" x="1828.9" y="295.4"/><use xlink:href="#m_D300" x="1835.8" y="295.4"/><use xlink:href="#m_D300" x="1842.7" y="295.4"/><use xlink:href="#m_D300" x="1849.5" y="291.0"/><use xlink:href="#m_D300" x="1856.4" y="291.0"/><use xlink:href="#m_D300" x="1863.3" y="291.0"/><use xlink:href="#m_D300" x="1870.2" y="291.0"/><use xlink:href="#m_D300" x="1877.1" y="286.5"/><use xlink:href="#m_D300" x="1884.0" y="286.5"/><use xlink:href="#m_D300" x="1890.9" y="286.5"/><use xlink:href="#m_D300" x="1897.8" y="286.5"/><use xlink:href="#m_D300" x="1904.7" y="282.0"/><use xlink:href="#m_D300" x="1911.7" y="282.0"/><use xlink:href="#m_D300" x="1918.6" y="282.0"/><use xlink:href="#m_D300" x="1925.5" y="282.0"/><use xlink:href="#m_D300" x="1932.4" y="277.6"/><use xlink:href="#m_D300" x="1939.4" y="277.6"/><use xlink:href="#m_D300" x="1946.3" y="277.6"/><use xlink:href="#m_D300" x="1953.2" y="277.6"/><use xlink:href="#m_D300" x="1960.1" y="277.6"/><use xlink:href="#m_D300" x="1967.1" y="273.1"/><use xlink:href="#m_D300" x="1974.0" y="273.1"/><use xlink:href="#m_D300" x="1980.9" y="273.1"/><use xlink:href="#m_D300" x="1987.8" y="273.1"/><use xlink:href="#m_D300" x="1994.7" y="268.7"/><use xlink:href="#m_D300" x="2001.7" y="268.7"/><use xlink:href="#m_D300" x="2008.6" y="268.7"/><use xlink:href="#m_D300" x="2015.5" y="268.7"/><use xlink:href="#m_D300" x="2022.4" y="264.2"/><use xlink:href="#m_D300" x="2029.3" y="264.2"/><use xlink:href="#m_D300" x="2036.2" y="264.2"/><use xlink:href="#m_D300" x="2043.1" y="264.2"/><use xlink:href="#m_D300" x="2050.0" y="259.8"/><use xlink:href="#m_D300" x="2056.9" y="259.8"/><use xlink:href="#m_D300" x="2063.8" y="259.8"/><use xlink:href="#m_D300" x="2070.7" y="259.8"/><use xlink:href="#m_D300" x="2077.6" y="255.3"/><use xlink:href="#m_D300" x="2084.5" y="255.3"/><use xlink:href="#m_D300" x="2091.4" y="255.3"/><use xlink:href="#m_D300" x="2098.3" y="250.9"/><use xlink:href="#m_D300" x="2105.2" y="250.9"/><use xlink:href="#m_D300" x="2112.1" y="250.9"/><use xlink:href="#m_D300" x="2119.0" y="250.9"/><use xlink:href="#m_D300" x="2124.9" y="246.4"/>
</g>
<g fill="#800080">
<polyline points="1630.0,1382.4 1634.9,1369.1 1640.4,1355.7 1646.0,1342.3 1652.0,1329.0 1658.4,1315.6 1665.1,1302.2 1671.7,1288.9 1678.4,1275.5 1684.9,1266.6 1691.5,1253.2 1698.0,1239.9 1704.7,1226.5 1711.4,1213.1 1717.9,1199.8 1724.2,1186.4 1729.6,1173.0 1734.4,1159.7 1739.3,1146.3 1745.1,1133.0 1751.5,1119.6 1758.0,1106.2 1764.6,1092.9 1771.2,1079.5 1777.9,1066.1 1784.6,1052.8 1790.7,1039.4 1795.8,1026.0 1800.8,1012.7 1806.4,999.3 1812.6,985.9 1819.0,972.6 1825.5,959.2 1832.0,945.8 1838.4,932.5 1844.5,919.1 1849.9,905.8 1855.4,892.4 1862.1,879.0 1868.8,865.7 1875.5,856.7 1882.0,843.4 1887.9,830.0 1893.5,816.6 1899.6,803.3 1906.2,789.9 1912.9,781.0 1919.4,767.6 1926.2,758.7 1932.7,749.8 1939.4,740.9 1946.1,727.5 1952.0,714.2 1956.0,700.8 1962.1,687.5 1968.7,674.1 1975.3,665.2 1981.8,651.8 1987.9,638.4 1994.0,625.1 2000.5,611.7 2007.2,602.8 2013.9,589.4 2020.5,580.5 2027.1,571.6 2033.8,562.7 2040.3,553.8 2046.9,544.9 2053.4,536.0 2060.2,527.1 2066.9,518.2 2073.5,509.3 2080.0,495.9 2086.7,482.5 2093.5,469.2 2100.3,460.2 2106.9,451.3 2107.9,446.9" fill="none" stroke="#800080" stroke-width="12" stroke-linejoin="round"/>
<use xlink:href="#m_D400" x="1630.0" y="1382.4"/><use xlink:href="#m_D400" x="1634.9" y="1369.1"/><use xlink:href="#m_D400" x="1640.4" y="1355.7"/><use xlink:href="#m_D400" x="1646.0" y="1342.3"/><use xlink:href="#m_D400" x="1652.0" y="1329.0"/><use xlink:href="#m_D400" x="1658.4" y="1315.6"/><use xlink:href="#m_D400" x="1665.1" y="1302.2"/><use xlink:href="#m_D400" x="1671.7" y="1288.9"/><use xlink:href="#m_D400" x="1678.4" y="1275.5"/><use xlink:href="#m_D400" x="1684.9" y="1266.6"/><use xlink:href="#m_D400" x="1691.5" y="1253.2"/><use xlink:href="#m_D400" x="1698.0" y="1239.9"/><use xlink:href="#m_D400" x="1704.7" y="1226.5"/><use xlink:href="#m_D400" x="1711.4" y="1213.1"/><use xlink:href="#m_D400" x="1717.9" y="1199.8"/><use xlink:href="#m_D400" x="1724.2" y="1186.4"/><use xlink:href="#m_D400" x="1729.6" y="1173.0"/><use xlink:href="#m_D400" x="1734.4" y="1159.7"/><use xlink:href="#m_D400" x="1739.3" y="1146.3"/><use xlink:href="#m_D400" x="1745.1" y="1133.0"/><use xlink:href="#m_D400" x="1751.5" y="1119.6"/><use xlink:href="#m_D400" x="1758.0" y="1106.2"/><use xlink:href="#m_D400" x="1764.6" y="1092.9"/><use xlink:href="#m_D400" x="1771.2" y="1079.5"/><use xlink:href="#m_D400" x="1777.9" y="1066.1"/><use xlink:href="#m_D400" x="1784.6" y="1052.8"/><use xlink:href="#m_D400" x="1790.7" y="1039.4"/><use xlink:href="#m_D400" x="1795.8" y="1026.0"/><use xlink:href="#m_D400" x="1800.8" y="1012.7"/><use xlink:href="#m_D400" x="1806.4" y="999.3"/><use xlink:href="#m_D400" x="1812.6" y="985.9"/><use xlink:href="#m_D400" x="1819.0" y="972.6"/><use xlink:href="#m_D400" x="1825.5" y="959.2"/><use xlink:href="#m_D400" x="1832.0" y="945.8"/><use xlink:href="#m_D400" x="1838.4" y="932.5"/><use xlink:href="#m_D400" x="1844.5" y="919.1"/><use xlink:href="#m_D400" x="1849.9" y="905.8"/><use xlink:href="#m_D400" x="1855.4" y="892.4"/><use xlink:href="#m_D400" x="1862.1" y="879.0"/><use xlink:href="#m_D400" x="1868.8" y="865.7"/><use xlink:href="#m_D400" x="1875.5" y="856.7"/><use xlink:href="#m_D400" x="1882.0" y="843.4"/><use xlink:href="#m_D400" x="1887.9" y="830.0"/><use xlink:href="#m_D400" x="1893.5" y="816.6"/><use xlink:href="#m_D400" x="1899.6" y="803.3"/><use xlink:href="#m_D400" x="1906.2" y="789.9"/><use xlink:href="#m_D400" x="1912.9" y="781.0"/><use xlink:href="#m_D400" x="1919.4" y="767.6"/><use xlink:href="#m_D400" x="1926.2" y="758.7"/><use xlink:href="#m_D400" x="1932.7" y="749.8"/><use xlink:href="#m_D400" x="1939.4" y="740.9"/><use xlink:href="#m_D400" x="1946.1" y="727.5"/><use xlink:href="#m_D400" x="1952.0" y="714.2"/><use xlink:href="#m_D400" x="1956.0" y="700.8"/><use xlink:href="#m_D400" x="1962.1" y="687.5"/><use xlink:href="#m_D400" x="1968.7" y="674.1"/><use xlink:href="#m_D400" x="1975.3" y="665.2"/><use xlink:href="#m_D400" x="1981.8" y="651.8"/><use xlink:href="#m_D400" x="1987.9" y="638.4"/><use xlink:href="#m_D400" x="1994.0" y="625.1"/><use xlink:href="#m_D400" x="2000.5" y="611.7"/><use xlink:href="#m_D400" x="2007.2" y="602.8"/><use xlink:href="#m_D400" x="2013.9" y="589.4"/><use xlink:href="#m_D400" x="2020.5" y="580.5"/><use xlink:href="#m_D400" x="2027.1" y="571.6"/><use xlink:href="#m_D400" x="2033.8" y="562.7"/><use xlink:href="#m_D400" x="2040.3" y="553.8"/><use xlink:href="#m_D400" x="2046.9" y="544.9"/><use xlink:href="#m_D400" x="2053.4" y="536.0"/><use xlink:href="#m_D400" x="2060.2" y="527.1"/><use xlink:href="#m_D400" x="2066.9" y="518.2"/><use xlink:href="#m_D400" x="2073.5" y="509.3"/><use xlink:href="#m_D400" x="2080.0" y="495.9"/><use xlink:href="#m_D400" x="2086.7" y="482.5"/><use xlink:href="#m_D400" x="2093.5" y="469.2"/><use xlink:href="#m_D400" x="2100.3" y="460.2"/><use xlink:href="#m_D400" x="2106.9" y="451.3"/><use xlink:href="#m_D400" x="2107.9" y="446.9"/>
</g>
</g>
<text x="177.2 223.8 247.8" y="86.8" font-family="'Liberation Serif','Times New Roman',serif" font-size="91.5">1.5</text>
<text x="177.2 223.5 245.2" y="355" font-family="'Liberation Serif','Times New Roman',serif" font-size="91.5">1.2</text>
<text x="175.2 223.2 248.2" y="622.2" font-family="'Liberation Serif','Times New Roman',serif" font-size="91.5">0.9</text>
<text x="175.2 223.2 247.9" y="886.6" font-family="'Liberation Serif','Times New Roman',serif" font-size="91.5">0.6</text>
<text x="174.8 223.6 246.0" y="1154" font-family="'Liberation Serif','Times New Roman',serif" font-size="91.5">0.3</text>
<text x="175.2 223.2 247.6" y="1421.9" font-family="'Liberation Serif','Times New Roman',serif" font-size="91.5">0.0</text>
<text x="473.3" y="1491.5" font-family="'Liberation Serif','Times New Roman',serif" font-size="91" text-anchor="middle">−2000</text>
<text x="799.2" y="1491.5" font-family="'Liberation Serif','Times New Roman',serif" font-size="91" text-anchor="middle">−1600</text>
<text x="1128.2" y="1491.5" font-family="'Liberation Serif','Times New Roman',serif" font-size="91" text-anchor="middle">−1200</text>
<text x="1455.1" y="1491.5" font-family="'Liberation Serif','Times New Roman',serif" font-size="91" text-anchor="middle">−800</text>
<text x="1782.1" y="1491.5" font-family="'Liberation Serif','Times New Roman',serif" font-size="91" text-anchor="middle">−400</text>
<text x="2115.5" y="1491.5" font-family="'Liberation Serif','Times New Roman',serif" font-size="91" text-anchor="middle">0</text>
<text x="891.9 950 1023 1060 1090.2 1155.2" y="1662.2" font-family="'Liberation Serif','Times New Roman',serif" font-size="132">H / kA</text>
<text x="1246" y="1673.2" font-family="'Liberation Serif','Times New Roman',serif" font-size="132">·</text>
<text x="1285.3" y="1662.2" font-family="'Liberation Serif','Times New Roman',serif" font-size="132">m</text>
<text x="1382.2" y="1613.2" font-family="'Liberation Serif','Times New Roman',serif" font-size="76" stroke="#000" stroke-width="6.5">−</text>
<text transform="translate(1452.8,1629.9) scale(0.8,1)" x="-29.2" y="0" font-family="'Liberation Serif','Times New Roman',serif" font-size="110.8">1</text>
<text transform="translate(131.5,843.5) rotate(-90) scale(0.919,1)" font-family="'Liberation Serif','Times New Roman',serif" font-size="133.5">B</text>
<text transform="translate(150.3,762.3) rotate(-90)" font-family="'Liberation Serif','Times New Roman',serif" font-size="108.7">r</text>
<text transform="translate(131.8,691.3) rotate(-90) scale(0.91,1)" font-family="'Liberation Serif','Times New Roman',serif" font-size="133.5">/</text>
<text transform="translate(131.8,621.6) rotate(-90) scale(0.908,1)" font-family="'Liberation Serif','Times New Roman',serif" font-size="133.5">T</text>
<line x1="363" y1="116.9" x2="509" y2="116.9" stroke="#000000" stroke-width="10.5"/>
<use xlink:href="#m_A300" x="434" y="116.9" fill="#000000"/>
<text x="522" y="137.1" font-family="'Liberation Serif','Times New Roman',serif" font-size="87">A-300k</text>
<line x1="363" y1="225.4" x2="509" y2="225.4" stroke="#ff0000" stroke-width="10.5"/>
<use xlink:href="#m_A400" x="434" y="225.4" fill="#ff0000"/>
<text x="522" y="245.6" font-family="'Liberation Serif','Times New Roman',serif" font-size="87">A-400k</text>
<line x1="363" y1="330.2" x2="509" y2="330.2" stroke="#0000ff" stroke-width="10.5"/>
<use xlink:href="#m_B300" x="434" y="330.2" fill="#0000ff"/>
<text x="522" y="350.4" font-family="'Liberation Serif','Times New Roman',serif" font-size="87">B-300k</text>
<line x1="363" y1="439.3" x2="509" y2="439.3" stroke="#ff00ff" stroke-width="10.5"/>
<use xlink:href="#m_B400" x="434" y="439.3" fill="#ff00ff"/>
<text x="522" y="459.5" font-family="'Liberation Serif','Times New Roman',serif" font-size="87">B-400k</text>
<line x1="363" y1="544.3" x2="509" y2="544.3" stroke="#008000" stroke-width="10.5"/>
<use xlink:href="#m_C300" x="434" y="544.3" fill="#008000"/>
<text x="522" y="564.5" font-family="'Liberation Serif','Times New Roman',serif" font-size="87">C-300k</text>
<line x1="363" y1="652.8" x2="509" y2="652.8" stroke="#000080" stroke-width="10.5"/>
<use xlink:href="#m_C400" x="434" y="652.8" fill="#000080"/>
<text x="522" y="673.0" font-family="'Liberation Serif','Times New Roman',serif" font-size="87">C-400k</text>
<line x1="363" y1="757.6" x2="509" y2="757.6" stroke="#8000ff" stroke-width="10.5"/>
<use xlink:href="#m_D300" x="434" y="757.6" fill="#8000ff"/>
<text x="522" y="777.8" font-family="'Liberation Serif','Times New Roman',serif" font-size="87">D-300k</text>
<line x1="363" y1="866.7" x2="509" y2="866.7" stroke="#800080" stroke-width="10.5"/>
<use xlink:href="#m_D400" x="434" y="866.7" fill="#800080"/>
<text x="522" y="886.9" font-family="'Liberation Serif','Times New Roman',serif" font-size="87">D-400k</text>
</svg>
</body></html>
